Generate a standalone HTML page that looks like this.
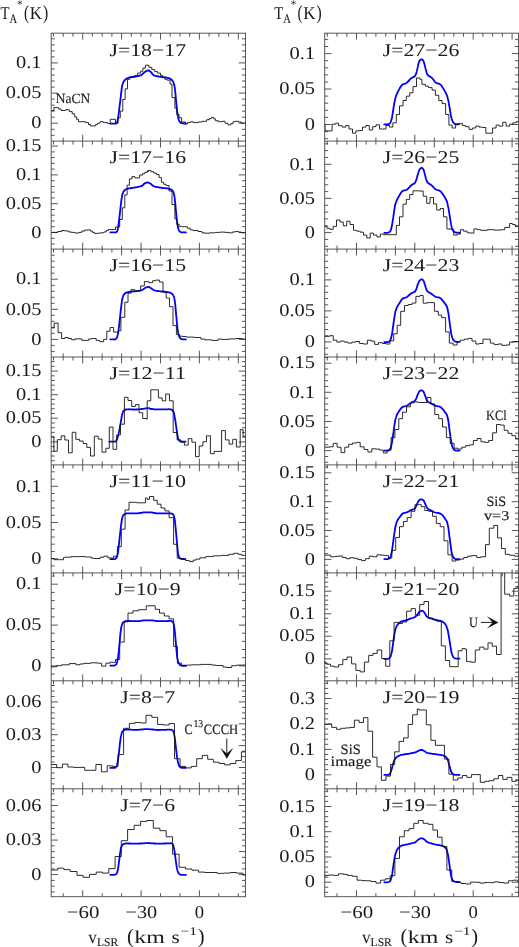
<!DOCTYPE html>
<html><head><meta charset="utf-8"><title>spectra</title>
<style>
html,body{margin:0;padding:0;background:#fff;}
svg{display:block;font-family:"Liberation Serif",serif;fill:#1a1a1a;will-change:transform;opacity:0.999;text-rendering:geometricPrecision;}
text{stroke:none;}
text.s{stroke:none;}
text.b{stroke:#1a1a1a;stroke-width:0.15px;}
</style></head><body>
<svg width="519" height="947" viewBox="0 0 519 947">
<rect width="519" height="947" fill="#fff"/>
<path d="M51.2,32.8V897.2M245.5,32.8V897.2M51.2,33.2H245.5M53.5,33.2V36.7M63.2,33.2V36.7M73.0,33.2V36.7M82.7,33.2V39.6M92.4,33.2V36.7M102.2,33.2V36.7M111.9,33.2V36.7M121.6,33.2V39.6M131.3,33.2V36.7M141.1,33.2V36.7M150.8,33.2V36.7M160.5,33.2V39.6M170.2,33.2V36.7M180.0,33.2V36.7M189.7,33.2V36.7M199.4,33.2V39.6M209.1,33.2V36.7M218.8,33.2V36.7M228.6,33.2V36.7M238.3,33.2V39.6M51.2,141.1H245.5M53.5,141.1V144.6M63.2,141.1V144.6M73.0,141.1V144.6M82.7,141.1V147.5M92.4,141.1V144.6M102.2,141.1V144.6M111.9,141.1V144.6M121.6,141.1V147.5M131.3,141.1V144.6M141.1,141.1V144.6M150.8,141.1V144.6M160.5,141.1V147.5M170.2,141.1V144.6M180.0,141.1V144.6M189.7,141.1V144.6M199.4,141.1V147.5M209.1,141.1V144.6M218.8,141.1V144.6M228.6,141.1V144.6M238.3,141.1V147.5M63.2,141.1V137.6M82.7,141.1V134.7M102.2,141.1V137.6M121.6,141.1V137.6M141.1,141.1V134.7M160.5,141.1V137.6M180.0,141.1V137.6M199.4,141.1V134.7M218.8,141.1V137.6M238.3,141.1V137.6M51.2,249.1H245.5M53.5,249.1V252.6M63.2,249.1V252.6M73.0,249.1V252.6M82.7,249.1V255.5M92.4,249.1V252.6M102.2,249.1V252.6M111.9,249.1V252.6M121.6,249.1V255.5M131.3,249.1V252.6M141.1,249.1V252.6M150.8,249.1V252.6M160.5,249.1V255.5M170.2,249.1V252.6M180.0,249.1V252.6M189.7,249.1V252.6M199.4,249.1V255.5M209.1,249.1V252.6M218.8,249.1V252.6M228.6,249.1V252.6M238.3,249.1V255.5M63.2,249.1V245.6M82.7,249.1V242.7M102.2,249.1V245.6M121.6,249.1V245.6M141.1,249.1V242.7M160.5,249.1V245.6M180.0,249.1V245.6M199.4,249.1V242.7M218.8,249.1V245.6M238.3,249.1V245.6M51.2,357.0H245.5M53.5,357.0V360.5M63.2,357.0V360.5M73.0,357.0V360.5M82.7,357.0V363.4M92.4,357.0V360.5M102.2,357.0V360.5M111.9,357.0V360.5M121.6,357.0V363.4M131.3,357.0V360.5M141.1,357.0V360.5M150.8,357.0V360.5M160.5,357.0V363.4M170.2,357.0V360.5M180.0,357.0V360.5M189.7,357.0V360.5M199.4,357.0V363.4M209.1,357.0V360.5M218.8,357.0V360.5M228.6,357.0V360.5M238.3,357.0V363.4M63.2,357.0V353.5M82.7,357.0V350.6M102.2,357.0V353.5M121.6,357.0V353.5M141.1,357.0V350.6M160.5,357.0V353.5M180.0,357.0V353.5M199.4,357.0V350.6M218.8,357.0V353.5M238.3,357.0V353.5M51.2,464.9H245.5M53.5,464.9V468.4M63.2,464.9V468.4M73.0,464.9V468.4M82.7,464.9V471.3M92.4,464.9V468.4M102.2,464.9V468.4M111.9,464.9V468.4M121.6,464.9V471.3M131.3,464.9V468.4M141.1,464.9V468.4M150.8,464.9V468.4M160.5,464.9V471.3M170.2,464.9V468.4M180.0,464.9V468.4M189.7,464.9V468.4M199.4,464.9V471.3M209.1,464.9V468.4M218.8,464.9V468.4M228.6,464.9V468.4M238.3,464.9V471.3M63.2,464.9V461.4M82.7,464.9V458.6M102.2,464.9V461.4M121.6,464.9V461.4M141.1,464.9V458.6M160.5,464.9V461.4M180.0,464.9V461.4M199.4,464.9V458.6M218.8,464.9V461.4M238.3,464.9V461.4M51.2,572.9H245.5M53.5,572.9V576.4M63.2,572.9V576.4M73.0,572.9V576.4M82.7,572.9V579.3M92.4,572.9V576.4M102.2,572.9V576.4M111.9,572.9V576.4M121.6,572.9V579.3M131.3,572.9V576.4M141.1,572.9V576.4M150.8,572.9V576.4M160.5,572.9V579.3M170.2,572.9V576.4M180.0,572.9V576.4M189.7,572.9V576.4M199.4,572.9V579.3M209.1,572.9V576.4M218.8,572.9V576.4M228.6,572.9V576.4M238.3,572.9V579.3M63.2,572.9V569.4M82.7,572.9V566.5M102.2,572.9V569.4M121.6,572.9V569.4M141.1,572.9V566.5M160.5,572.9V569.4M180.0,572.9V569.4M199.4,572.9V566.5M218.8,572.9V569.4M238.3,572.9V569.4M51.2,680.8H245.5M53.5,680.8V684.3M63.2,680.8V684.3M73.0,680.8V684.3M82.7,680.8V687.2M92.4,680.8V684.3M102.2,680.8V684.3M111.9,680.8V684.3M121.6,680.8V687.2M131.3,680.8V684.3M141.1,680.8V684.3M150.8,680.8V684.3M160.5,680.8V687.2M170.2,680.8V684.3M180.0,680.8V684.3M189.7,680.8V684.3M199.4,680.8V687.2M209.1,680.8V684.3M218.8,680.8V684.3M228.6,680.8V684.3M238.3,680.8V687.2M63.2,680.8V677.3M82.7,680.8V674.4M102.2,680.8V677.3M121.6,680.8V677.3M141.1,680.8V674.4M160.5,680.8V677.3M180.0,680.8V677.3M199.4,680.8V674.4M218.8,680.8V677.3M238.3,680.8V677.3M51.2,788.8H245.5M53.5,788.8V792.3M63.2,788.8V792.3M73.0,788.8V792.3M82.7,788.8V795.2M92.4,788.8V792.3M102.2,788.8V792.3M111.9,788.8V792.3M121.6,788.8V795.2M131.3,788.8V792.3M141.1,788.8V792.3M150.8,788.8V792.3M160.5,788.8V795.2M170.2,788.8V792.3M180.0,788.8V792.3M189.7,788.8V792.3M199.4,788.8V795.2M209.1,788.8V792.3M218.8,788.8V792.3M228.6,788.8V792.3M238.3,788.8V795.2M63.2,788.8V785.3M82.7,788.8V782.4M102.2,788.8V785.3M121.6,788.8V785.3M141.1,788.8V782.4M160.5,788.8V785.3M180.0,788.8V785.3M199.4,788.8V782.4M218.8,788.8V785.3M238.3,788.8V785.3M51.2,896.7H245.5M63.2,896.7V893.2M82.7,896.7V890.3M102.2,896.7V893.2M121.6,896.7V893.2M141.1,896.7V890.3M160.5,896.7V893.2M180.0,896.7V893.2M199.4,896.7V890.3M218.8,896.7V893.2M238.3,896.7V893.2M324.7,32.8V897.2M518.5,32.8V897.2M324.7,33.2H518.5M327.3,33.2V36.7M337.0,33.2V36.7M346.8,33.2V36.7M356.5,33.2V39.6M366.2,33.2V36.7M375.9,33.2V36.7M385.7,33.2V36.7M395.4,33.2V39.6M405.1,33.2V36.7M414.8,33.2V36.7M424.6,33.2V36.7M434.3,33.2V39.6M444.0,33.2V36.7M453.8,33.2V36.7M463.5,33.2V36.7M473.2,33.2V39.6M482.9,33.2V36.7M492.6,33.2V36.7M502.4,33.2V36.7M512.1,33.2V39.6M324.7,141.1H518.5M327.3,141.1V144.6M337.0,141.1V144.6M346.8,141.1V144.6M356.5,141.1V147.5M366.2,141.1V144.6M375.9,141.1V144.6M385.7,141.1V144.6M395.4,141.1V147.5M405.1,141.1V144.6M414.8,141.1V144.6M424.6,141.1V144.6M434.3,141.1V147.5M444.0,141.1V144.6M453.8,141.1V144.6M463.5,141.1V144.6M473.2,141.1V147.5M482.9,141.1V144.6M492.6,141.1V144.6M502.4,141.1V144.6M512.1,141.1V147.5M337.0,141.1V137.6M356.5,141.1V134.7M375.9,141.1V137.6M395.4,141.1V137.6M414.8,141.1V134.7M434.3,141.1V137.6M453.8,141.1V137.6M473.2,141.1V134.7M492.6,141.1V137.6M512.1,141.1V137.6M324.7,249.1H518.5M327.3,249.1V252.6M337.0,249.1V252.6M346.8,249.1V252.6M356.5,249.1V255.5M366.2,249.1V252.6M375.9,249.1V252.6M385.7,249.1V252.6M395.4,249.1V255.5M405.1,249.1V252.6M414.8,249.1V252.6M424.6,249.1V252.6M434.3,249.1V255.5M444.0,249.1V252.6M453.8,249.1V252.6M463.5,249.1V252.6M473.2,249.1V255.5M482.9,249.1V252.6M492.6,249.1V252.6M502.4,249.1V252.6M512.1,249.1V255.5M337.0,249.1V245.6M356.5,249.1V242.7M375.9,249.1V245.6M395.4,249.1V245.6M414.8,249.1V242.7M434.3,249.1V245.6M453.8,249.1V245.6M473.2,249.1V242.7M492.6,249.1V245.6M512.1,249.1V245.6M324.7,357.0H518.5M327.3,357.0V360.5M337.0,357.0V360.5M346.8,357.0V360.5M356.5,357.0V363.4M366.2,357.0V360.5M375.9,357.0V360.5M385.7,357.0V360.5M395.4,357.0V363.4M405.1,357.0V360.5M414.8,357.0V360.5M424.6,357.0V360.5M434.3,357.0V363.4M444.0,357.0V360.5M453.8,357.0V360.5M463.5,357.0V360.5M473.2,357.0V363.4M482.9,357.0V360.5M492.6,357.0V360.5M502.4,357.0V360.5M512.1,357.0V363.4M337.0,357.0V353.5M356.5,357.0V350.6M375.9,357.0V353.5M395.4,357.0V353.5M414.8,357.0V350.6M434.3,357.0V353.5M453.8,357.0V353.5M473.2,357.0V350.6M492.6,357.0V353.5M512.1,357.0V353.5M324.7,464.9H518.5M327.3,464.9V468.4M337.0,464.9V468.4M346.8,464.9V468.4M356.5,464.9V471.3M366.2,464.9V468.4M375.9,464.9V468.4M385.7,464.9V468.4M395.4,464.9V471.3M405.1,464.9V468.4M414.8,464.9V468.4M424.6,464.9V468.4M434.3,464.9V471.3M444.0,464.9V468.4M453.8,464.9V468.4M463.5,464.9V468.4M473.2,464.9V471.3M482.9,464.9V468.4M492.6,464.9V468.4M502.4,464.9V468.4M512.1,464.9V471.3M337.0,464.9V461.4M356.5,464.9V458.6M375.9,464.9V461.4M395.4,464.9V461.4M414.8,464.9V458.6M434.3,464.9V461.4M453.8,464.9V461.4M473.2,464.9V458.6M492.6,464.9V461.4M512.1,464.9V461.4M324.7,572.9H518.5M327.3,572.9V576.4M337.0,572.9V576.4M346.8,572.9V576.4M356.5,572.9V579.3M366.2,572.9V576.4M375.9,572.9V576.4M385.7,572.9V576.4M395.4,572.9V579.3M405.1,572.9V576.4M414.8,572.9V576.4M424.6,572.9V576.4M434.3,572.9V579.3M444.0,572.9V576.4M453.8,572.9V576.4M463.5,572.9V576.4M473.2,572.9V579.3M482.9,572.9V576.4M492.6,572.9V576.4M502.4,572.9V576.4M512.1,572.9V579.3M337.0,572.9V569.4M356.5,572.9V566.5M375.9,572.9V569.4M395.4,572.9V569.4M414.8,572.9V566.5M434.3,572.9V569.4M453.8,572.9V569.4M473.2,572.9V566.5M492.6,572.9V569.4M512.1,572.9V569.4M324.7,680.8H518.5M327.3,680.8V684.3M337.0,680.8V684.3M346.8,680.8V684.3M356.5,680.8V687.2M366.2,680.8V684.3M375.9,680.8V684.3M385.7,680.8V684.3M395.4,680.8V687.2M405.1,680.8V684.3M414.8,680.8V684.3M424.6,680.8V684.3M434.3,680.8V687.2M444.0,680.8V684.3M453.8,680.8V684.3M463.5,680.8V684.3M473.2,680.8V687.2M482.9,680.8V684.3M492.6,680.8V684.3M502.4,680.8V684.3M512.1,680.8V687.2M337.0,680.8V677.3M356.5,680.8V674.4M375.9,680.8V677.3M395.4,680.8V677.3M414.8,680.8V674.4M434.3,680.8V677.3M453.8,680.8V677.3M473.2,680.8V674.4M492.6,680.8V677.3M512.1,680.8V677.3M324.7,788.8H518.5M327.3,788.8V792.3M337.0,788.8V792.3M346.8,788.8V792.3M356.5,788.8V795.2M366.2,788.8V792.3M375.9,788.8V792.3M385.7,788.8V792.3M395.4,788.8V795.2M405.1,788.8V792.3M414.8,788.8V792.3M424.6,788.8V792.3M434.3,788.8V795.2M444.0,788.8V792.3M453.8,788.8V792.3M463.5,788.8V792.3M473.2,788.8V795.2M482.9,788.8V792.3M492.6,788.8V792.3M502.4,788.8V792.3M512.1,788.8V795.2M337.0,788.8V785.3M356.5,788.8V782.4M375.9,788.8V785.3M395.4,788.8V785.3M414.8,788.8V782.4M434.3,788.8V785.3M453.8,788.8V785.3M473.2,788.8V782.4M492.6,788.8V785.3M512.1,788.8V785.3M324.7,896.7H518.5M337.0,896.7V893.2M356.5,896.7V890.3M375.9,896.7V893.2M395.4,896.7V893.2M414.8,896.7V890.3M434.3,896.7V893.2M453.8,896.7V893.2M473.2,896.7V890.3M492.6,896.7V893.2M512.1,896.7V893.2M51.2,135.3H54.7M245.5,135.3H242.0M51.2,129.3H54.7M245.5,129.3H242.0M51.2,123.2H57.9M245.5,123.2H238.8M51.2,117.2H54.7M245.5,117.2H242.0M51.2,111.2H54.7M245.5,111.2H242.0M51.2,105.2H54.7M245.5,105.2H242.0M51.2,99.1H54.7M245.5,99.1H242.0M51.2,93.1H57.9M245.5,93.1H238.8M51.2,87.1H54.7M245.5,87.1H242.0M51.2,81.0H54.7M245.5,81.0H242.0M51.2,75.0H54.7M245.5,75.0H242.0M51.2,69.0H54.7M245.5,69.0H242.0M51.2,62.9H57.9M245.5,62.9H238.8M51.2,56.9H54.7M245.5,56.9H242.0M51.2,50.9H54.7M245.5,50.9H242.0M51.2,44.9H54.7M245.5,44.9H242.0M51.2,38.8H54.7M245.5,38.8H242.0M51.2,244.0H54.7M245.5,244.0H242.0M51.2,238.3H54.7M245.5,238.3H242.0M51.2,232.5H57.9M245.5,232.5H238.8M51.2,226.7H54.7M245.5,226.7H242.0M51.2,221.0H54.7M245.5,221.0H242.0M51.2,215.2H54.7M245.5,215.2H242.0M51.2,209.5H54.7M245.5,209.5H242.0M51.2,203.7H57.9M245.5,203.7H238.8M51.2,197.9H54.7M245.5,197.9H242.0M51.2,192.2H54.7M245.5,192.2H242.0M51.2,186.4H54.7M245.5,186.4H242.0M51.2,180.7H54.7M245.5,180.7H242.0M51.2,174.9H57.9M245.5,174.9H238.8M51.2,169.1H54.7M245.5,169.1H242.0M51.2,163.4H54.7M245.5,163.4H242.0M51.2,157.6H54.7M245.5,157.6H242.0M51.2,151.9H54.7M245.5,151.9H242.0M51.2,146.1H57.9M245.5,146.1H238.8M51.2,351.4H54.7M245.5,351.4H242.0M51.2,345.4H54.7M245.5,345.4H242.0M51.2,339.4H57.9M245.5,339.4H238.8M51.2,333.3H54.7M245.5,333.3H242.0M51.2,327.3H54.7M245.5,327.3H242.0M51.2,321.3H54.7M245.5,321.3H242.0M51.2,315.3H54.7M245.5,315.3H242.0M51.2,309.3H57.9M245.5,309.3H238.8M51.2,303.3H54.7M245.5,303.3H242.0M51.2,297.3H54.7M245.5,297.3H242.0M51.2,291.3H54.7M245.5,291.3H242.0M51.2,285.3H54.7M245.5,285.3H242.0M51.2,279.2H57.9M245.5,279.2H238.8M51.2,273.2H54.7M245.5,273.2H242.0M51.2,267.2H54.7M245.5,267.2H242.0M51.2,261.2H54.7M245.5,261.2H242.0M51.2,255.2H54.7M245.5,255.2H242.0M51.2,460.7H54.7M245.5,460.7H242.0M51.2,456.0H54.7M245.5,456.0H242.0M51.2,451.3H54.7M245.5,451.3H242.0M51.2,446.6H54.7M245.5,446.6H242.0M51.2,441.9H57.9M245.5,441.9H238.8M51.2,437.1H54.7M245.5,437.1H242.0M51.2,432.4H54.7M245.5,432.4H242.0M51.2,427.7H54.7M245.5,427.7H242.0M51.2,423.0H54.7M245.5,423.0H242.0M51.2,418.2H57.9M245.5,418.2H238.8M51.2,413.5H54.7M245.5,413.5H242.0M51.2,408.8H54.7M245.5,408.8H242.0M51.2,404.1H54.7M245.5,404.1H242.0M51.2,399.4H54.7M245.5,399.4H242.0M51.2,394.7H57.9M245.5,394.7H238.8M51.2,389.9H54.7M245.5,389.9H242.0M51.2,385.2H54.7M245.5,385.2H242.0M51.2,380.5H54.7M245.5,380.5H242.0M51.2,375.8H54.7M245.5,375.8H242.0M51.2,371.1H57.9M245.5,371.1H238.8M51.2,366.3H54.7M245.5,366.3H242.0M51.2,361.6H54.7M245.5,361.6H242.0M51.2,565.9H54.7M245.5,565.9H242.0M51.2,558.7H57.9M245.5,558.7H238.8M51.2,551.5H54.7M245.5,551.5H242.0M51.2,544.2H54.7M245.5,544.2H242.0M51.2,537.0H54.7M245.5,537.0H242.0M51.2,529.7H54.7M245.5,529.7H242.0M51.2,522.5H57.9M245.5,522.5H238.8M51.2,515.3H54.7M245.5,515.3H242.0M51.2,508.0H54.7M245.5,508.0H242.0M51.2,500.8H54.7M245.5,500.8H242.0M51.2,493.5H54.7M245.5,493.5H242.0M51.2,486.3H57.9M245.5,486.3H238.8M51.2,479.1H54.7M245.5,479.1H242.0M51.2,471.8H54.7M245.5,471.8H242.0M51.2,674.0H54.7M245.5,674.0H242.0M51.2,665.9H57.9M245.5,665.9H238.8M51.2,657.7H54.7M245.5,657.7H242.0M51.2,649.5H54.7M245.5,649.5H242.0M51.2,641.4H54.7M245.5,641.4H242.0M51.2,633.2H54.7M245.5,633.2H242.0M51.2,625.1H57.9M245.5,625.1H238.8M51.2,616.9H54.7M245.5,616.9H242.0M51.2,608.7H54.7M245.5,608.7H242.0M51.2,600.6H54.7M245.5,600.6H242.0M51.2,592.4H54.7M245.5,592.4H242.0M51.2,584.2H57.9M245.5,584.2H238.8M51.2,576.1H54.7M245.5,576.1H242.0M51.2,783.9H54.7M245.5,783.9H242.0M51.2,778.4H54.7M245.5,778.4H242.0M51.2,773.0H54.7M245.5,773.0H242.0M51.2,767.5H57.9M245.5,767.5H238.8M51.2,762.0H54.7M245.5,762.0H242.0M51.2,756.6H54.7M245.5,756.6H242.0M51.2,751.1H54.7M245.5,751.1H242.0M51.2,745.6H54.7M245.5,745.6H238.8M51.2,740.2H54.7M245.5,740.2H242.0M51.2,734.7H57.9M245.5,734.7H242.0M51.2,729.2H54.7M245.5,729.2H242.0M51.2,723.8H54.7M245.5,723.8H238.8M51.2,718.3H54.7M245.5,718.3H242.0M51.2,712.9H54.7M245.5,712.9H242.0M51.2,707.4H54.7M245.5,707.4H242.0M51.2,701.9H57.9M245.5,701.9H238.8M51.2,696.5H54.7M245.5,696.5H242.0M51.2,691.0H54.7M245.5,691.0H242.0M51.2,685.5H54.7M245.5,685.5H242.0M51.2,891.9H54.7M245.5,891.9H242.0M51.2,886.2H54.7M245.5,886.2H242.0M51.2,880.4H54.7M245.5,880.4H242.0M51.2,874.6H57.9M245.5,874.6H238.8M51.2,868.9H54.7M245.5,868.9H242.0M51.2,863.1H54.7M245.5,863.1H242.0M51.2,857.4H54.7M245.5,857.4H242.0M51.2,851.6H54.7M245.5,851.6H238.8M51.2,845.8H54.7M245.5,845.8H242.0M51.2,840.1H57.9M245.5,840.1H242.0M51.2,834.3H54.7M245.5,834.3H242.0M51.2,828.5H54.7M245.5,828.5H238.8M51.2,822.8H54.7M245.5,822.8H242.0M51.2,817.0H54.7M245.5,817.0H242.0M51.2,811.2H54.7M245.5,811.2H242.0M51.2,805.5H57.9M245.5,805.5H238.8M51.2,799.7H54.7M245.5,799.7H242.0M51.2,793.9H54.7M245.5,793.9H242.0M324.7,138.7H328.2M518.5,138.7H515.0M324.7,131.6H328.2M518.5,131.6H515.0M324.7,124.5H331.4M518.5,124.5H511.8M324.7,117.4H328.2M518.5,117.4H515.0M324.7,110.3H328.2M518.5,110.3H515.0M324.7,103.2H328.2M518.5,103.2H515.0M324.7,96.1H328.2M518.5,96.1H515.0M324.7,89.0H331.4M518.5,89.0H511.8M324.7,82.0H328.2M518.5,82.0H515.0M324.7,74.9H328.2M518.5,74.9H515.0M324.7,67.8H328.2M518.5,67.8H515.0M324.7,60.7H328.2M518.5,60.7H515.0M324.7,53.6H331.4M518.5,53.6H511.8M324.7,46.5H328.2M518.5,46.5H515.0M324.7,39.4H328.2M518.5,39.4H515.0M324.7,246.3H328.2M518.5,246.3H515.0M324.7,239.4H328.2M518.5,239.4H515.0M324.7,232.6H331.4M518.5,232.6H511.8M324.7,225.8H328.2M518.5,225.8H515.0M324.7,218.9H328.2M518.5,218.9H515.0M324.7,212.1H328.2M518.5,212.1H515.0M324.7,205.3H328.2M518.5,205.3H515.0M324.7,198.4H331.4M518.5,198.4H511.8M324.7,191.6H328.2M518.5,191.6H515.0M324.7,184.8H328.2M518.5,184.8H515.0M324.7,178.0H328.2M518.5,178.0H515.0M324.7,171.1H328.2M518.5,171.1H515.0M324.7,164.3H331.4M518.5,164.3H511.8M324.7,157.5H328.2M518.5,157.5H515.0M324.7,150.6H328.2M518.5,150.6H515.0M324.7,143.8H328.2M518.5,143.8H515.0M324.7,354.3H328.2M518.5,354.3H515.0M324.7,348.1H328.2M518.5,348.1H515.0M324.7,341.9H331.4M518.5,341.9H511.8M324.7,335.8H328.2M518.5,335.8H515.0M324.7,329.6H328.2M518.5,329.6H515.0M324.7,323.3H328.2M518.5,323.3H515.0M324.7,317.1H328.2M518.5,317.1H515.0M324.7,310.9H331.4M518.5,310.9H511.8M324.7,304.8H328.2M518.5,304.8H515.0M324.7,298.5H328.2M518.5,298.5H515.0M324.7,292.3H328.2M518.5,292.3H515.0M324.7,286.1H328.2M518.5,286.1H515.0M324.7,279.9H331.4M518.5,279.9H511.8M324.7,273.8H328.2M518.5,273.8H515.0M324.7,267.6H328.2M518.5,267.6H515.0M324.7,261.3H328.2M518.5,261.3H515.0M324.7,255.1H328.2M518.5,255.1H515.0M324.7,462.3H328.2M518.5,462.3H515.0M324.7,456.5H328.2M518.5,456.5H515.0M324.7,450.6H331.4M518.5,450.6H511.8M324.7,444.8H328.2M518.5,444.8H515.0M324.7,439.0H328.2M518.5,439.0H515.0M324.7,433.2H328.2M518.5,433.2H515.0M324.7,427.3H328.2M518.5,427.3H515.0M324.7,421.5H331.4M518.5,421.5H511.8M324.7,415.7H328.2M518.5,415.7H515.0M324.7,409.8H328.2M518.5,409.8H515.0M324.7,404.0H328.2M518.5,404.0H515.0M324.7,398.2H328.2M518.5,398.2H515.0M324.7,392.3H331.4M518.5,392.3H511.8M324.7,386.5H328.2M518.5,386.5H515.0M324.7,380.7H328.2M518.5,380.7H515.0M324.7,374.9H328.2M518.5,374.9H515.0M324.7,369.0H328.2M518.5,369.0H515.0M324.7,363.2H331.4M518.5,363.2H511.8M324.7,357.4H328.2M518.5,357.4H515.0M324.7,570.9H328.2M518.5,570.9H515.0M324.7,565.2H328.2M518.5,565.2H515.0M324.7,559.4H331.4M518.5,559.4H511.8M324.7,553.6H328.2M518.5,553.6H515.0M324.7,547.9H328.2M518.5,547.9H515.0M324.7,542.1H328.2M518.5,542.1H515.0M324.7,536.3H328.2M518.5,536.3H515.0M324.7,530.5H331.4M518.5,530.5H511.8M324.7,524.8H328.2M518.5,524.8H515.0M324.7,519.0H328.2M518.5,519.0H515.0M324.7,513.2H328.2M518.5,513.2H515.0M324.7,507.5H328.2M518.5,507.5H515.0M324.7,501.7H331.4M518.5,501.7H511.8M324.7,495.9H328.2M518.5,495.9H515.0M324.7,490.2H328.2M518.5,490.2H515.0M324.7,484.4H328.2M518.5,484.4H515.0M324.7,478.6H328.2M518.5,478.6H515.0M324.7,472.8H331.4M518.5,472.8H511.8M324.7,467.1H328.2M518.5,467.1H515.0M324.7,676.8H328.2M518.5,676.8H515.0M324.7,672.2H328.2M518.5,672.2H515.0M324.7,667.8H328.2M518.5,667.8H515.0M324.7,663.2H328.2M518.5,663.2H515.0M324.7,658.8H331.4M518.5,658.8H511.8M324.7,654.2H328.2M518.5,654.2H515.0M324.7,649.8H328.2M518.5,649.8H515.0M324.7,645.2H328.2M518.5,645.2H515.0M324.7,640.8H328.2M518.5,640.8H515.0M324.7,636.2H331.4M518.5,636.2H511.8M324.7,631.8H328.2M518.5,631.8H515.0M324.7,627.2H328.2M518.5,627.2H515.0M324.7,622.8H328.2M518.5,622.8H515.0M324.7,618.2H328.2M518.5,618.2H515.0M324.7,613.8H331.4M518.5,613.8H511.8M324.7,609.2H328.2M518.5,609.2H515.0M324.7,604.8H328.2M518.5,604.8H515.0M324.7,600.2H328.2M518.5,600.2H515.0M324.7,595.8H328.2M518.5,595.8H515.0M324.7,591.2H331.4M518.5,591.2H511.8M324.7,586.8H328.2M518.5,586.8H515.0M324.7,582.2H328.2M518.5,582.2H515.0M324.7,577.8H328.2M518.5,577.8H515.0M324.7,573.2H328.2M518.5,573.2H515.0M324.7,784.9H328.2M518.5,784.9H515.0M324.7,779.8H328.2M518.5,779.8H515.0M324.7,774.8H331.4M518.5,774.8H511.8M324.7,769.7H328.2M518.5,769.7H515.0M324.7,764.6H328.2M518.5,764.6H515.0M324.7,759.5H328.2M518.5,759.5H515.0M324.7,754.4H328.2M518.5,754.4H515.0M324.7,749.4H331.4M518.5,749.4H511.8M324.7,744.3H328.2M518.5,744.3H515.0M324.7,739.2H328.2M518.5,739.2H515.0M324.7,734.1H328.2M518.5,734.1H515.0M324.7,729.0H328.2M518.5,729.0H515.0M324.7,724.0H331.4M518.5,724.0H511.8M324.7,718.9H328.2M518.5,718.9H515.0M324.7,713.8H328.2M518.5,713.8H515.0M324.7,708.7H328.2M518.5,708.7H515.0M324.7,703.6H328.2M518.5,703.6H515.0M324.7,698.5H331.4M518.5,698.5H511.8M324.7,693.5H328.2M518.5,693.5H515.0M324.7,688.4H328.2M518.5,688.4H515.0M324.7,683.3H328.2M518.5,683.3H515.0M324.7,892.3H328.2M518.5,892.3H515.0M324.7,887.2H328.2M518.5,887.2H515.0M324.7,882.2H331.4M518.5,882.2H511.8M324.7,877.2H328.2M518.5,877.2H515.0M324.7,872.1H328.2M518.5,872.1H515.0M324.7,867.1H328.2M518.5,867.1H515.0M324.7,862.0H328.2M518.5,862.0H515.0M324.7,857.0H331.4M518.5,857.0H511.8M324.7,851.9H328.2M518.5,851.9H515.0M324.7,846.9H328.2M518.5,846.9H515.0M324.7,841.8H328.2M518.5,841.8H515.0M324.7,836.8H328.2M518.5,836.8H515.0M324.7,831.7H331.4M518.5,831.7H511.8M324.7,826.7H328.2M518.5,826.7H515.0M324.7,821.6H328.2M518.5,821.6H515.0M324.7,816.6H328.2M518.5,816.6H515.0M324.7,811.5H328.2M518.5,811.5H515.0M324.7,806.5H331.4M518.5,806.5H511.8M324.7,801.4H328.2M518.5,801.4H515.0M324.7,796.4H328.2M518.5,796.4H515.0M324.7,791.3H328.2M518.5,791.3H515.0" fill="none" stroke="#444444" stroke-width="0.9"/>
<text x="66.65" y="917.50" font-size="18.0" text-anchor="start" textLength="32.7" lengthAdjust="spacingAndGlyphs">−60</text>
<text x="125.50" y="917.50" font-size="18.0" text-anchor="start" textLength="31.7" lengthAdjust="spacingAndGlyphs">−30</text>
<text x="194.75" y="917.50" font-size="18.0" text-anchor="start" textLength="9.3" lengthAdjust="spacingAndGlyphs">0</text>
<text x="340.45" y="917.50" font-size="18.0" text-anchor="start" textLength="32.7" lengthAdjust="spacingAndGlyphs">−60</text>
<text x="399.30" y="917.50" font-size="18.0" text-anchor="start" textLength="31.7" lengthAdjust="spacingAndGlyphs">−30</text>
<text x="468.55" y="917.50" font-size="18.0" text-anchor="start" textLength="9.3" lengthAdjust="spacingAndGlyphs">0</text>
<text x="31.26" y="128.45" font-size="18.0" text-anchor="start" textLength="10.2" lengthAdjust="spacingAndGlyphs">0</text>
<text x="5.67" y="98.30" font-size="18.0" text-anchor="start" textLength="35.8" lengthAdjust="spacingAndGlyphs">0.05</text>
<text x="15.91" y="68.15" font-size="18.0" text-anchor="start" textLength="25.6" lengthAdjust="spacingAndGlyphs">0.1</text>
<text x="109.44" y="55.50" font-size="18.0" text-anchor="start" textLength="76.6" lengthAdjust="spacingAndGlyphs">J=18−17</text>
<clipPath id="cL1"><rect x="51.2" y="33.2" width="194.3" height="107.93749999999999"/></clipPath>
<path d="M110.3,123.6L111.1,123.6L111.8,123.6L112.6,123.6L113.3,123.6L114.1,123.6L114.8,123.6L115.6,123.6L116.2,123.5L116.7,123.0L117.0,122.4L117.3,121.7L117.5,120.9L117.6,120.2L117.8,119.5L117.9,118.7L118.0,118.0L118.2,117.3L118.3,116.5L118.4,115.8L118.5,115.0L118.6,114.3L118.7,113.5L118.8,112.8L118.9,112.1L119.0,111.3L119.1,110.6L119.2,109.8L119.3,109.1L119.3,108.3L119.4,107.6L119.5,106.8L119.6,106.1L119.7,105.4L119.8,104.6L119.9,103.9L120.0,103.1L120.1,102.4L120.2,101.6L120.3,100.9L120.4,100.1L120.4,99.4L120.5,98.7L120.6,97.9L120.7,97.2L120.8,96.4L120.9,95.7L120.9,94.9L121.0,94.2L121.1,93.4L121.2,92.7L121.3,92.0L121.4,91.2L121.5,90.5L121.6,89.7L121.7,89.0L121.8,88.2L121.9,87.5L122.0,86.8L122.1,86.0L122.2,85.3L122.5,84.6L122.7,83.9L123.0,83.2L123.3,82.5L123.6,81.8L124.0,81.2L124.4,80.6L124.9,80.0L125.4,79.5L126.0,79.0L126.7,78.7L127.3,78.3L128.0,78.0L128.7,77.7L129.4,77.5L130.2,77.4L130.9,77.2L131.6,77.0L132.4,76.9L133.1,76.8L133.9,76.7L134.6,76.6L135.3,76.5L136.1,76.4L136.8,76.3L137.6,76.2L138.3,76.0L139.0,75.9L139.7,75.6L140.5,75.4L141.1,75.1L141.8,74.7L142.3,74.2L142.8,73.7L143.4,73.2L144.0,72.7L144.5,72.2L145.1,71.8L145.8,71.4L146.4,71.0L147.1,70.7L147.8,70.5L148.5,70.4L149.0,70.4L149.2,70.8L149.8,71.2L150.4,71.6L150.9,72.1L151.4,72.7L151.9,73.3L152.3,73.9L152.8,74.4L153.4,74.9L154.0,75.3L154.6,75.7L155.3,75.9L156.1,76.1L156.8,76.2L157.5,76.4L158.3,76.5L159.0,76.6L159.8,76.7L160.5,76.8L161.3,76.9L162.0,77.0L162.7,77.1L163.5,77.2L164.2,77.2L165.0,77.3L165.7,77.4L166.5,77.6L167.2,77.8L167.9,77.9L168.6,78.1L169.3,78.4L170.0,78.7L170.7,79.1L171.3,79.5L171.8,80.0L172.3,80.6L172.8,81.1L173.2,81.8L173.4,82.5L173.7,83.2L173.9,83.9L174.2,84.6L174.3,85.3L174.5,86.1L174.6,86.8L174.7,87.5L174.8,88.3L174.9,89.0L175.0,89.8L175.1,90.5L175.2,91.3L175.3,92.0L175.4,92.7L175.4,93.5L175.5,94.2L175.6,95.0L175.6,95.7L175.7,96.5L175.8,97.2L175.8,98.0L175.9,98.7L176.0,99.5L176.0,100.2L176.1,101.0L176.2,101.7L176.3,102.5L176.3,103.2L176.4,103.9L176.5,104.7L176.6,105.4L176.6,106.2L176.7,106.9L176.8,107.7L176.9,108.4L177.0,109.2L177.0,109.9L177.1,110.7L177.2,111.4L177.3,112.1L177.4,112.9L177.5,113.6L177.6,114.4L177.7,115.1L177.8,115.9L178.0,116.6L178.1,117.3L178.3,118.1L178.5,118.8L178.6,119.5L178.9,120.2L179.2,120.9L179.6,121.5L180.0,122.1L180.5,122.6L181.2,122.9L181.9,123.2L182.6,123.3L183.4,123.4L184.1,123.5L184.9,123.5L185.5,123.6L185.9,123.6" fill="none" stroke="#0000fa" stroke-width="1.8" stroke-linejoin="round" stroke-linecap="round"/>
<path d="M51.5,110.5V110.5H53.9V107.6H58.7V109.1H61.2V110.5H65.8V109.7H69.3V111.6H72.2V113.9H74.7V116.8H76.6V119.3H78.5V121.7H85.6V122.6H88.5V124.5H90.5V125.9H95.7V124.5H97.6V123.2H100.1V121.7H103.4V122.6H107.8V123.6H110.3V119.3H115.5V123.2H118.0V117.8H120.3V111.1H122.8V99.5H125.1V88.9H127.5V79.3H129.8V77.3H134.8V75.4H137.7V73.1H140.6V71.2H142.9V68.1H145.4V65.2H146.0V65.2H148.9V67.3H151.8V69.6H154.7V71.6H157.6V73.1H160.5V75.4H162.4V77.7H164.9V79.3H167.2V80.2H170.1V84.1H172.0V97.6H174.9V108.2H176.8V114.5H179.1V117.8H181.6V122.0H185.5V124.0H187.4V122.6H190.7V121.7H193.2V122.6H198.0V122.0H201.9V121.3H206.7V119.7H209.6V118.4H211.5V117.4H213.8V118.8H215.4V120.7H218.3V121.7H222.1V121.3H225.0V123.2H227.9V124.9H230.8V123.6H233.1V121.7H235.6V121.3H238.5V122.0H241.4V123.2H245.6" fill="none" stroke="#151515" stroke-width="0.9" clip-path="url(#cL1)"/>
<text class="b" x="55.8" y="103.2" font-size="14.0" textLength="34.4" lengthAdjust="spacingAndGlyphs">NaCN</text>
<text x="31.26" y="237.70" font-size="18.0" text-anchor="start" textLength="10.2" lengthAdjust="spacingAndGlyphs">0</text>
<text x="5.67" y="208.90" font-size="18.0" text-anchor="start" textLength="35.8" lengthAdjust="spacingAndGlyphs">0.05</text>
<text x="15.91" y="180.10" font-size="18.0" text-anchor="start" textLength="25.6" lengthAdjust="spacingAndGlyphs">0.1</text>
<text x="5.67" y="151.30" font-size="18.0" text-anchor="start" textLength="35.8" lengthAdjust="spacingAndGlyphs">0.15</text>
<text x="109.44" y="163.44" font-size="18.0" text-anchor="start" textLength="76.6" lengthAdjust="spacingAndGlyphs">J=17−16</text>
<clipPath id="cL2"><rect x="51.2" y="141.1375" width="194.3" height="107.9375"/></clipPath>
<path d="M110.3,232.4L111.1,232.4L111.8,232.4L112.6,232.4L113.3,232.4L114.1,232.4L114.8,232.4L115.6,232.4L116.2,232.3L116.7,231.9L117.1,231.2L117.4,230.6L117.6,229.8L117.7,229.1L117.9,228.4L118.0,227.6L118.2,226.9L118.3,226.2L118.4,225.4L118.5,224.7L118.6,223.9L118.7,223.2L118.8,222.5L118.9,221.7L119.0,221.0L119.1,220.2L119.2,219.5L119.3,218.7L119.4,218.0L119.4,217.2L119.5,216.5L119.6,215.7L119.7,215.0L119.8,214.3L119.9,213.5L119.9,212.8L120.0,212.0L120.1,211.3L120.2,210.5L120.3,209.8L120.4,209.0L120.4,208.3L120.5,207.6L120.6,206.8L120.7,206.1L120.8,205.3L120.9,204.6L120.9,203.8L121.0,203.1L121.1,202.3L121.2,201.6L121.3,200.8L121.4,200.1L121.5,199.4L121.6,198.6L121.8,197.9L121.9,197.1L122.0,196.4L122.1,195.7L122.3,194.9L122.5,194.2L122.7,193.5L123.0,192.8L123.2,192.1L123.6,191.5L124.1,190.9L124.6,190.3L125.1,189.8L125.8,189.5L126.4,189.1L127.1,188.8L127.8,188.6L128.6,188.5L129.3,188.4L130.0,188.3L130.8,188.1L131.5,188.0L132.3,187.9L133.0,187.8L133.7,187.7L134.5,187.6L135.2,187.4L136.0,187.3L136.7,187.2L137.4,187.0L138.2,186.9L138.9,186.7L139.6,186.5L140.4,186.3L141.1,186.1L141.8,185.9L142.4,185.5L142.9,185.0L143.5,184.4L144.0,183.9L144.6,183.5L145.2,183.1L145.9,182.8L146.6,182.6L147.4,182.5L148.1,182.5L148.8,182.7L149.4,183.1L150.1,183.4L150.7,183.8L151.3,184.3L151.8,184.8L152.4,185.3L153.0,185.7L153.7,186.1L154.4,186.4L155.1,186.6L155.8,186.8L156.5,187.0L157.3,187.1L158.0,187.2L158.7,187.4L159.5,187.5L160.2,187.6L161.0,187.7L161.7,187.9L162.4,188.0L163.2,188.1L163.9,188.1L164.7,188.2L165.4,188.2L166.2,188.3L166.9,188.3L167.6,188.4L168.4,188.6L169.1,188.8L169.8,189.0L170.5,189.3L171.2,189.6L171.8,190.0L172.3,190.5L172.7,191.2L173.2,191.8L173.5,192.4L173.7,193.1L173.9,193.9L174.0,194.6L174.2,195.3L174.4,196.1L174.5,196.8L174.6,197.6L174.7,198.3L174.8,199.0L174.9,199.8L174.9,200.5L175.0,201.3L175.1,202.0L175.2,202.8L175.3,203.5L175.4,204.3L175.4,205.0L175.5,205.8L175.6,206.5L175.6,207.2L175.7,208.0L175.7,208.7L175.8,209.5L175.9,210.2L175.9,211.0L176.0,211.7L176.1,212.5L176.2,213.2L176.2,214.0L176.3,214.7L176.4,215.5L176.5,216.2L176.5,217.0L176.6,217.7L176.7,218.4L176.8,219.2L176.8,219.9L176.9,220.7L177.0,221.4L177.2,222.2L177.3,222.9L177.4,223.7L177.5,224.4L177.6,225.1L177.7,225.9L177.8,226.6L178.0,227.3L178.2,228.1L178.4,228.8L178.6,229.5L178.9,230.2L179.3,230.8L179.8,231.4L180.3,231.9L180.9,232.1L181.7,232.3L182.4,232.4L183.2,232.4L183.9,232.4L184.7,232.4L185.4,232.4L185.9,232.4" fill="none" stroke="#0000fa" stroke-width="1.8" stroke-linejoin="round" stroke-linecap="round"/>
<path d="M51.5,232.4V232.4H57.7V231.5H61.6V230.5H64.5V230.9H68.3V231.9H71.2V232.4H75.0V233.0H78.9V232.4H81.8V231.1H84.7V230.1H87.6V229.9H90.5V231.1H92.4V232.4H94.7V233.6H97.2V233.2H100.5V232.8H103.9V231.9H106.3V230.5H108.4V229.5H110.7V229.5H115.5V227.0H117.4V227.0H119.7V219.5H122.3V207.8H124.8V194.9H127.1V185.2H129.4V178.9H131.9V176.6H134.8V177.9H139.6V175.0H142.5V173.7H144.8V172.3H147.3V170.8H148.3V171.7H148.3V170.4H150.8V171.7H153.7V173.1H156.6V174.6H159.1V177.5H161.4V182.3H163.7V184.3H166.2V185.6H169.1V191.0H172.0V204.5H174.9V218.9H176.8V224.3H179.1V226.3H181.6V226.7H187.4V228.2H190.3V229.9H193.2V230.5H198.0V231.5H201.9V232.8H204.8V233.2H209.6V232.8H215.4V232.4H220.2V232.1H225.0V232.4H228.9V232.8H232.7V231.9H235.6V231.5H238.5V232.1H241.4V232.8H245.6" fill="none" stroke="#151515" stroke-width="0.9" clip-path="url(#cL2)"/>
<text x="31.26" y="344.55" font-size="18.0" text-anchor="start" textLength="10.2" lengthAdjust="spacingAndGlyphs">0</text>
<text x="5.67" y="314.50" font-size="18.0" text-anchor="start" textLength="35.8" lengthAdjust="spacingAndGlyphs">0.05</text>
<text x="15.91" y="284.45" font-size="18.0" text-anchor="start" textLength="25.6" lengthAdjust="spacingAndGlyphs">0.1</text>
<text x="109.44" y="271.38" font-size="18.0" text-anchor="start" textLength="76.6" lengthAdjust="spacingAndGlyphs">J=16−15</text>
<clipPath id="cL3"><rect x="51.2" y="249.075" width="194.3" height="107.9375"/></clipPath>
<path d="M110.3,339.4L111.1,339.4L111.8,339.4L112.6,339.4L113.3,339.4L114.1,339.4L114.8,339.4L115.5,339.3L116.0,338.8L116.5,338.2L116.9,337.6L117.2,336.9L117.4,336.2L117.5,335.5L117.7,334.8L117.9,334.0L118.1,333.3L118.2,332.6L118.3,331.8L118.4,331.1L118.5,330.3L118.6,329.6L118.7,328.8L118.8,328.1L118.9,327.4L119.0,326.6L119.1,325.9L119.2,325.1L119.2,324.4L119.3,323.6L119.4,322.9L119.5,322.1L119.6,321.4L119.7,320.7L119.7,319.9L119.8,319.2L119.9,318.4L120.0,317.7L120.1,316.9L120.1,316.2L120.2,315.4L120.3,314.7L120.4,313.9L120.5,313.2L120.6,312.5L120.6,311.7L120.7,311.0L120.8,310.2L120.9,309.5L121.0,308.7L121.1,308.0L121.2,307.2L121.2,306.5L121.3,305.7L121.4,305.0L121.5,304.3L121.6,303.5L121.7,302.8L121.8,302.0L121.9,301.3L122.0,300.5L122.1,299.8L122.3,299.1L122.5,298.3L122.7,297.6L122.9,296.9L123.1,296.2L123.3,295.5L123.7,294.9L124.2,294.3L124.7,293.7L125.2,293.2L125.9,292.9L126.6,292.6L127.3,292.3L128.0,292.1L128.7,292.0L129.5,291.9L130.2,291.8L131.0,291.7L131.7,291.6L132.4,291.5L133.2,291.4L133.9,291.4L134.7,291.3L135.4,291.3L136.2,291.2L136.9,291.1L137.7,291.1L138.4,290.9L139.1,290.8L139.9,290.6L140.6,290.5L141.3,290.3L142.0,290.0L142.7,289.6L143.3,289.3L143.9,288.8L144.5,288.4L145.1,287.9L145.7,287.5L146.4,287.3L147.2,287.1L147.9,286.9L148.6,286.9L149.3,287.1L149.9,287.5L150.6,287.9L151.2,288.3L151.8,288.7L152.4,289.2L153.0,289.6L153.7,290.0L154.3,290.3L155.1,290.5L155.8,290.7L156.5,290.8L157.3,291.0L158.0,291.1L158.7,291.1L159.5,291.2L160.2,291.3L161.0,291.4L161.7,291.5L162.5,291.5L163.2,291.6L164.0,291.7L164.7,291.7L165.5,291.8L166.2,291.9L166.9,292.0L167.7,292.1L168.4,292.3L169.2,292.4L169.9,292.6L170.6,292.9L171.2,293.3L171.8,293.7L172.4,294.1L172.9,294.7L173.2,295.4L173.6,296.0L173.9,296.7L174.2,297.4L174.3,298.1L174.4,298.9L174.6,299.6L174.7,300.3L174.8,301.1L174.9,301.8L175.0,302.6L175.1,303.3L175.2,304.0L175.3,304.8L175.3,305.5L175.4,306.3L175.5,307.0L175.5,307.8L175.6,308.5L175.7,309.3L175.7,310.0L175.8,310.8L175.9,311.5L175.9,312.3L176.0,313.0L176.1,313.8L176.1,314.5L176.2,315.3L176.3,316.0L176.3,316.7L176.4,317.5L176.5,318.2L176.5,319.0L176.6,319.7L176.7,320.5L176.7,321.2L176.8,322.0L176.9,322.7L177.0,323.5L177.0,324.2L177.1,325.0L177.2,325.7L177.3,326.5L177.3,327.2L177.4,327.9L177.5,328.7L177.6,329.4L177.8,330.2L177.9,330.9L178.0,331.7L178.1,332.4L178.2,333.1L178.4,333.9L178.6,334.6L178.8,335.3L179.0,336.0L179.3,336.7L179.6,337.4L180.0,338.0L180.5,338.5L181.1,338.9L181.8,339.2L182.5,339.3L183.3,339.4L184.0,339.4L184.8,339.4L185.5,339.4L185.9,339.4" fill="none" stroke="#0000fa" stroke-width="1.8" stroke-linejoin="round" stroke-linecap="round"/>
<path d="M51.5,327.9V327.9H54.2V323.1H58.1V332.7H61.6V338.5H65.0V337.5H68.3V338.5H71.6V339.8H75.0V338.9H81.8V340.4H88.5V339.1H91.4V338.5H96.2V340.4H99.7V341.7H103.6V339.4H106.8V331.2H110.1V327.5H113.6V332.1H118.4V330.8H120.9V317.3H124.8V302.3H128.0V293.2H130.9V289.7H134.8V290.9H140.6V285.9H144.4V281.6H147.3V281.6H148.9V282.6H152.7V280.7H155.6V280.1H159.5V282.0H163.0V292.2H166.2V298.0H169.5V306.7H173.0V325.6H176.4V334.6H179.7V336.2H182.6V336.5H186.5V337.1H194.2V337.5H200.9V339.1H204.8V339.8H211.5V340.4H218.3V339.1H222.1V339.4H228.9V338.9H235.6V338.5H242.3V339.1H245.6" fill="none" stroke="#151515" stroke-width="0.9" clip-path="url(#cL3)"/>
<text x="31.26" y="447.05" font-size="18.0" text-anchor="start" textLength="10.2" lengthAdjust="spacingAndGlyphs">0</text>
<text x="5.67" y="423.45" font-size="18.0" text-anchor="start" textLength="35.8" lengthAdjust="spacingAndGlyphs">0.05</text>
<text x="15.91" y="399.85" font-size="18.0" text-anchor="start" textLength="25.6" lengthAdjust="spacingAndGlyphs">0.1</text>
<text x="5.67" y="376.25" font-size="18.0" text-anchor="start" textLength="35.8" lengthAdjust="spacingAndGlyphs">0.15</text>
<text x="109.44" y="379.31" font-size="18.0" text-anchor="start" textLength="76.6" lengthAdjust="spacingAndGlyphs">J=12−11</text>
<clipPath id="cL4"><rect x="51.2" y="357.0125" width="194.3" height="107.9375"/></clipPath>
<path d="M109.3,441.6L110.1,441.6L110.8,441.6L111.6,441.6L112.3,441.6L113.1,441.6L113.8,441.6L114.6,441.6L115.3,441.5L115.8,441.1L116.3,440.5L116.7,439.8L117.0,439.2L117.3,438.5L117.5,437.8L117.7,437.1L117.9,436.3L118.2,435.6L118.4,434.9L118.5,434.2L118.7,433.4L118.8,432.7L119.0,432.0L119.1,431.2L119.3,430.5L119.4,429.8L119.6,429.0L119.7,428.3L119.8,427.6L120.0,426.8L120.1,426.1L120.2,425.3L120.3,424.6L120.5,423.9L120.6,423.1L120.7,422.4L120.9,421.6L121.0,420.9L121.1,420.2L121.2,419.4L121.4,418.7L121.5,417.9L121.6,417.2L121.7,416.5L121.9,415.7L122.0,415.0L122.2,414.3L122.4,413.6L122.7,412.8L122.9,412.1L123.2,411.4L123.6,410.9L124.2,410.4L124.8,409.9L125.4,409.6L126.1,409.5L126.9,409.4L127.6,409.4L128.4,409.3L129.1,409.2L129.9,409.3L130.6,409.3L131.4,409.4L132.1,409.4L132.9,409.5L133.6,409.5L134.4,409.6L135.1,409.6L135.8,409.5L136.6,409.5L137.3,409.4L138.1,409.4L138.8,409.3L139.6,409.3L140.3,409.2L141.1,409.1L141.8,409.0L142.6,408.9L143.3,408.8L144.0,408.7L144.8,408.5L145.5,408.4L146.3,408.4L147.0,408.3L147.8,408.2L148.5,408.1L149.2,408.2L149.8,408.6L150.4,408.9L151.1,409.0L151.9,409.0L152.6,409.1L153.4,409.2L154.1,409.3L154.9,409.3L155.6,409.4L156.4,409.4L157.1,409.4L157.9,409.4L158.6,409.4L159.4,409.4L160.1,409.4L160.9,409.4L161.6,409.4L162.4,409.4L163.1,409.4L163.9,409.4L164.6,409.4L165.4,409.3L166.1,409.3L166.9,409.3L167.6,409.3L168.4,409.2L169.1,409.2L169.9,409.3L170.6,409.4L171.3,409.5L172.0,409.8L172.5,410.2L173.0,410.8L173.4,411.4L173.6,412.1L173.8,412.8L174.0,413.6L174.2,414.3L174.4,415.0L174.5,415.8L174.6,416.5L174.8,417.2L174.9,418.0L175.0,418.7L175.1,419.5L175.3,420.2L175.4,420.9L175.5,421.7L175.6,422.4L175.7,423.2L175.8,423.9L175.9,424.7L176.0,425.4L176.1,426.1L176.2,426.9L176.3,427.6L176.4,428.4L176.5,429.1L176.6,429.9L176.7,430.6L176.9,431.3L177.0,432.1L177.1,432.8L177.2,433.6L177.3,434.3L177.4,435.0L177.6,435.8L177.7,436.5L177.9,437.2L178.0,438.0L178.2,438.7L178.6,439.4L178.9,440.0L179.4,440.6L179.9,441.1L180.6,441.3L181.3,441.5L182.1,441.6L182.8,441.6L183.5,441.6L184.3,441.6L185.0,441.6L185.5,441.6" fill="none" stroke="#0000fa" stroke-width="1.8" stroke-linejoin="round" stroke-linecap="round"/>
<path d="M51.5,436.8V436.8H53.9V451.2H57.3V439.7H61.2V435.8H64.8V440.0H68.5V452.8H72.2V432.3H75.8V439.3H79.5V441.0H83.1V443.5H86.8V447.4H90.5V456.0H94.3V436.2H98.2V439.1H102.0V452.2H105.9V448.3H109.3V427.1H113.0V449.3H116.7V434.8H120.5V424.2H124.4V397.3H128.0V400.5H131.7V406.5H135.4V404.6H139.0V412.7H142.7V418.5H146.3V419.1H147.2V400.8H150.8V389.8H158.4V397.9H162.2V400.8H165.7V394.0H169.5V400.8H173.2V432.5H177.1V439.9H180.7V442.2H184.4V445.1H188.2V438.7H191.9V442.2H195.5V456.6H199.2V446.0H202.9V441.8H206.5V435.8H210.4V453.7H214.2V451.4H221.6V430.6H225.4V439.9H229.1V444.1H232.7V439.3H236.4V447.0H240.2V429.7H243.1V436.4H246.4" fill="none" stroke="#151515" stroke-width="0.9" clip-path="url(#cL4)"/>
<text x="31.26" y="563.90" font-size="18.0" text-anchor="start" textLength="10.2" lengthAdjust="spacingAndGlyphs">0</text>
<text x="5.67" y="527.70" font-size="18.0" text-anchor="start" textLength="35.8" lengthAdjust="spacingAndGlyphs">0.05</text>
<text x="15.91" y="491.50" font-size="18.0" text-anchor="start" textLength="25.6" lengthAdjust="spacingAndGlyphs">0.1</text>
<text x="109.44" y="487.25" font-size="18.0" text-anchor="start" textLength="76.6" lengthAdjust="spacingAndGlyphs">J=11−10</text>
<clipPath id="cL5"><rect x="51.2" y="464.95" width="194.3" height="107.93750000000006"/></clipPath>
<path d="M110.3,559.1L111.1,559.1L111.8,559.1L112.6,559.1L113.3,559.1L114.1,559.1L114.8,559.1L115.4,558.8L116.0,558.3L116.5,557.8L116.8,557.1L117.0,556.4L117.2,555.7L117.4,555.0L117.6,554.2L117.8,553.5L117.9,552.8L118.0,552.0L118.1,551.3L118.2,550.5L118.3,549.8L118.4,549.1L118.4,548.3L118.5,547.6L118.6,546.8L118.7,546.1L118.8,545.3L118.9,544.6L119.0,543.8L119.1,543.1L119.1,542.4L119.2,541.6L119.3,540.9L119.4,540.1L119.5,539.4L119.6,538.6L119.6,537.9L119.7,537.1L119.8,536.4L119.9,535.6L120.0,534.9L120.1,534.2L120.1,533.4L120.2,532.7L120.3,531.9L120.4,531.2L120.5,530.4L120.6,529.7L120.6,528.9L120.7,528.2L120.8,527.4L120.9,526.7L121.0,526.0L121.1,525.2L121.2,524.5L121.3,523.7L121.4,523.0L121.5,522.2L121.6,521.5L121.7,520.8L121.8,520.0L122.0,519.3L122.2,518.6L122.3,517.8L122.5,517.1L122.7,516.4L123.0,515.7L123.5,515.1L124.0,514.6L124.5,514.1L125.2,513.8L125.9,513.6L126.6,513.4L127.3,513.3L128.1,513.3L128.8,513.3L129.6,513.3L130.3,513.4L131.1,513.4L131.8,513.4L132.6,513.4L133.3,513.4L134.1,513.4L134.8,513.4L135.6,513.4L136.3,513.3L137.1,513.3L137.8,513.3L138.6,513.2L139.3,513.1L140.1,513.0L140.8,512.9L141.5,512.8L142.3,512.6L143.0,512.5L143.8,512.4L144.5,512.3L145.2,512.3L146.0,512.3L146.7,512.3L147.5,512.3L148.2,512.3L149.0,512.3L149.7,512.3L150.5,512.4L151.2,512.4L152.0,512.5L152.7,512.6L153.5,512.8L154.2,512.9L154.9,513.0L155.7,513.1L156.4,513.3L157.2,513.4L157.9,513.4L158.7,513.4L159.4,513.4L160.2,513.4L160.9,513.4L161.7,513.4L162.4,513.4L163.2,513.4L163.9,513.4L164.7,513.4L165.4,513.4L166.2,513.4L166.9,513.4L167.7,513.3L168.4,513.3L169.2,513.3L169.9,513.3L170.6,513.4L171.4,513.5L172.1,513.7L172.7,514.1L173.2,514.6L173.6,515.3L173.9,515.9L174.1,516.6L174.3,517.4L174.4,518.1L174.6,518.8L174.7,519.6L174.8,520.3L174.9,521.1L175.0,521.8L175.1,522.5L175.2,523.3L175.2,524.0L175.3,524.8L175.4,525.5L175.5,526.3L175.5,527.0L175.6,527.8L175.7,528.5L175.8,529.3L175.8,530.0L175.9,530.8L176.0,531.5L176.0,532.3L176.1,533.0L176.2,533.7L176.2,534.5L176.3,535.2L176.4,536.0L176.4,536.7L176.5,537.5L176.6,538.2L176.6,539.0L176.7,539.7L176.8,540.5L176.8,541.2L176.9,542.0L177.0,542.7L177.0,543.5L177.1,544.2L177.2,545.0L177.2,545.7L177.3,546.4L177.4,547.2L177.4,547.9L177.5,548.7L177.6,549.4L177.7,550.2L177.7,550.9L177.8,551.7L177.9,552.4L178.0,553.2L178.1,553.9L178.3,554.6L178.5,555.3L178.7,556.1L178.9,556.8L179.1,557.5L179.6,558.0L180.2,558.4L180.9,558.7L181.6,558.9L182.3,559.0L183.1,559.0L183.8,559.0L184.6,559.1L185.2,559.1L185.5,559.1" fill="none" stroke="#0000fa" stroke-width="1.8" stroke-linejoin="round" stroke-linecap="round"/>
<path d="M51.5,558.1V558.5H53.9V559.7H57.7V559.7H63.5V557.6H64.5V557.2H71.2V556.6H78.9V556.6H85.6V557.0H91.4V558.1H93.4V558.5H100.1V557.2H103.9V556.2H107.8V557.8H109.7V558.1H113.6V556.2H116.5V556.2H117.4V546.6H121.3V529.2H125.1V510.0H129.0V502.3H136.7V502.8H145.4V498.0H147.3V499.4H149.5V496.5H153.7V500.3H157.2V504.2H161.0V508.0H164.9V510.9H169.1V517.7H173.6V544.3H177.2V558.1H180.7V559.1H185.5V560.5H189.4V561.6H193.2V560.1H196.1V559.1H199.9V557.8H205.7V556.6H213.4V555.8H221.1V555.4H228.9V554.3H233.7V553.3H238.1V554.3H241.4V555.3H245.6" fill="none" stroke="#151515" stroke-width="0.9" clip-path="url(#cL5)"/>
<text x="31.26" y="671.05" font-size="18.0" text-anchor="start" textLength="10.2" lengthAdjust="spacingAndGlyphs">0</text>
<text x="5.67" y="630.25" font-size="18.0" text-anchor="start" textLength="35.8" lengthAdjust="spacingAndGlyphs">0.05</text>
<text x="15.91" y="589.45" font-size="18.0" text-anchor="start" textLength="25.6" lengthAdjust="spacingAndGlyphs">0.1</text>
<text x="114.88" y="595.19" font-size="18.0" text-anchor="start" textLength="65.7" lengthAdjust="spacingAndGlyphs">J=10−9</text>
<clipPath id="cL6"><rect x="51.2" y="572.8875" width="194.3" height="107.9375"/></clipPath>
<path d="M110.3,665.7L111.1,665.7L111.8,665.7L112.6,665.7L113.3,665.7L114.0,665.7L114.7,665.5L115.3,665.1L115.9,664.6L116.4,664.1L116.7,663.4L116.9,662.7L117.1,662.0L117.3,661.3L117.5,660.5L117.7,659.8L117.8,659.1L118.0,658.3L118.0,657.6L118.1,656.8L118.2,656.1L118.3,655.4L118.4,654.6L118.5,653.9L118.6,653.1L118.7,652.4L118.8,651.6L118.9,650.9L118.9,650.1L119.0,649.4L119.1,648.6L119.1,647.9L119.2,647.2L119.3,646.4L119.3,645.7L119.4,644.9L119.5,644.2L119.5,643.4L119.6,642.7L119.7,641.9L119.7,641.2L119.8,640.4L119.9,639.7L119.9,638.9L120.0,638.2L120.0,637.4L120.1,636.7L120.2,635.9L120.2,635.2L120.3,634.5L120.4,633.7L120.5,633.0L120.6,632.2L120.7,631.5L120.8,630.7L120.9,630.0L121.0,629.2L121.1,628.5L121.1,627.8L121.3,627.0L121.4,626.3L121.7,625.6L121.9,624.9L122.1,624.2L122.4,623.5L122.7,622.8L123.3,622.3L123.9,621.9L124.6,621.6L125.3,621.3L126.0,621.1L126.7,620.9L127.4,620.9L128.2,620.9L128.9,621.0L129.7,621.0L130.4,621.1L131.2,621.1L131.9,621.2L132.7,621.2L133.4,621.2L134.2,621.2L134.9,621.2L135.7,621.2L136.4,621.2L137.2,621.2L137.9,621.2L138.7,621.2L139.4,621.1L140.2,621.0L140.9,620.8L141.6,620.7L142.4,620.6L143.1,620.5L143.9,620.3L144.6,620.3L145.3,620.3L146.1,620.3L146.8,620.3L147.6,620.3L148.3,620.3L149.1,620.3L149.8,620.3L150.6,620.3L151.3,620.3L152.1,620.3L152.8,620.4L153.6,620.5L154.3,620.7L155.1,620.8L155.8,620.9L156.5,621.0L157.3,621.2L158.0,621.2L158.8,621.2L159.5,621.2L160.3,621.2L161.0,621.2L161.8,621.2L162.5,621.2L163.3,621.2L164.0,621.2L164.8,621.2L165.5,621.2L166.3,621.1L167.0,621.1L167.8,621.0L168.5,621.0L169.3,620.9L170.0,620.9L170.7,620.9L171.5,621.1L172.1,621.4L172.7,621.8L173.1,622.3L173.3,623.0L173.6,623.8L173.8,624.5L174.0,625.2L174.1,625.9L174.2,626.7L174.3,627.4L174.4,628.2L174.5,628.9L174.6,629.6L174.7,630.4L174.8,631.1L174.8,631.9L174.9,632.6L175.0,633.4L175.1,634.1L175.1,634.9L175.2,635.6L175.3,636.4L175.3,637.1L175.4,637.9L175.5,638.6L175.5,639.4L175.6,640.1L175.7,640.8L175.7,641.6L175.8,642.3L175.9,643.1L175.9,643.8L176.0,644.6L176.1,645.3L176.1,646.1L176.2,646.8L176.3,647.6L176.3,648.3L176.4,649.1L176.5,649.8L176.5,650.6L176.6,651.3L176.7,652.1L176.7,652.8L176.8,653.5L176.9,654.3L177.0,655.0L177.0,655.8L177.1,656.5L177.2,657.3L177.3,658.0L177.5,658.7L177.7,659.5L177.8,660.2L178.0,660.9L178.1,661.7L178.3,662.4L178.6,663.1L179.0,663.7L179.4,664.3L179.8,664.9L180.5,665.2L181.2,665.4L181.9,665.6L182.6,665.7L183.4,665.7L184.1,665.7L184.9,665.7L185.5,665.7L185.9,665.7" fill="none" stroke="#0000fa" stroke-width="1.8" stroke-linejoin="round" stroke-linecap="round"/>
<path d="M51.5,665.5V667.1H52.9V666.7H56.7V665.7H61.6V664.8H69.3V663.6H76.0V664.8H79.9V664.0H83.7V663.4H90.5V662.8H97.2V663.2H101.6V666.1H105.9V663.2H110.1V662.3H115.5V659.4H119.7V642.0H124.2V621.8H128.0V613.1H132.9V610.8H138.6V609.7H146.3V605.8H147.3V605.8H155.2V609.3H159.5V613.1H164.3V616.0H169.1V618.9H173.6V646.3H177.4V663.2H181.6V666.1H186.5V665.1H191.3V664.8H200.9V664.4H211.5V665.1H216.3V665.5H223.1V667.1H226.9V667.5H231.7V665.7H236.6V665.1H245.6" fill="none" stroke="#151515" stroke-width="0.9" clip-path="url(#cL6)"/>
<text x="31.26" y="772.70" font-size="18.0" text-anchor="start" textLength="10.2" lengthAdjust="spacingAndGlyphs">0</text>
<text x="5.67" y="739.91" font-size="18.0" text-anchor="start" textLength="35.8" lengthAdjust="spacingAndGlyphs">0.03</text>
<text x="5.67" y="707.12" font-size="18.0" text-anchor="start" textLength="35.8" lengthAdjust="spacingAndGlyphs">0.06</text>
<text x="120.33" y="703.12" font-size="18.0" text-anchor="start" textLength="54.8" lengthAdjust="spacingAndGlyphs">J=8−7</text>
<clipPath id="cL7"><rect x="51.2" y="680.825" width="194.3" height="107.9375"/></clipPath>
<path d="M110.3,767.9L111.1,767.9L111.8,767.9L112.6,767.9L113.3,767.9L114.1,767.9L114.8,767.9L115.4,767.6L116.0,767.1L116.4,766.5L116.8,765.9L117.0,765.2L117.1,764.5L117.3,763.7L117.5,763.0L117.7,762.3L117.8,761.5L117.9,760.8L118.0,760.0L118.1,759.3L118.2,758.6L118.3,757.8L118.4,757.1L118.5,756.3L118.6,755.6L118.7,754.8L118.8,754.1L118.8,753.3L118.9,752.6L119.0,751.9L119.1,751.1L119.2,750.4L119.3,749.6L119.3,748.9L119.4,748.1L119.5,747.4L119.6,746.6L119.7,745.9L119.8,745.1L119.8,744.4L119.9,743.7L120.0,742.9L120.1,742.2L120.2,741.4L120.3,740.7L120.4,739.9L120.5,739.2L120.6,738.5L120.7,737.7L120.8,737.0L121.0,736.2L121.2,735.5L121.3,734.8L121.5,734.0L121.6,733.3L121.8,732.6L122.2,731.9L122.6,731.4L123.1,730.8L123.6,730.3L124.3,730.0L125.0,729.7L125.7,729.5L126.5,729.5L127.2,729.5L128.0,729.5L128.7,729.6L129.5,729.6L130.2,729.6L131.0,729.7L131.7,729.7L132.5,729.8L133.2,729.8L133.9,729.8L134.7,729.8L135.4,729.8L136.2,729.8L136.9,729.8L137.7,729.8L138.4,729.8L139.2,729.7L139.9,729.7L140.7,729.6L141.4,729.5L142.2,729.4L142.9,729.4L143.7,729.3L144.4,729.2L145.2,729.2L145.9,729.2L146.7,729.2L147.4,729.2L148.2,729.2L148.9,729.2L149.7,729.3L150.4,729.3L151.2,729.4L151.9,729.4L152.7,729.5L153.4,729.6L154.2,729.6L154.9,729.7L155.6,729.8L156.4,729.9L157.1,729.9L157.9,730.0L158.6,730.0L159.4,729.9L160.1,729.9L160.9,729.9L161.6,729.9L162.4,729.9L163.1,729.8L163.9,729.8L164.6,729.8L165.4,729.8L166.1,729.8L166.9,729.7L167.6,729.7L168.4,729.7L169.1,729.7L169.9,729.6L170.6,729.6L171.4,729.8L172.0,730.0L172.7,730.3L173.1,730.9L173.4,731.6L173.6,732.3L173.9,733.0L174.1,733.7L174.2,734.4L174.3,735.2L174.5,735.9L174.6,736.6L174.7,737.4L174.8,738.1L174.9,738.9L175.0,739.6L175.1,740.4L175.2,741.1L175.3,741.9L175.3,742.6L175.4,743.3L175.5,744.1L175.6,744.8L175.7,745.6L175.8,746.3L175.8,747.1L175.9,747.8L176.0,748.6L176.1,749.3L176.2,750.0L176.3,750.8L176.4,751.5L176.5,752.3L176.6,753.0L176.6,753.8L176.7,754.5L176.8,755.3L176.9,756.0L177.0,756.7L177.1,757.5L177.3,758.2L177.4,759.0L177.5,759.7L177.6,760.4L177.8,761.2L177.9,761.9L178.0,762.7L178.3,763.4L178.5,764.1L178.7,764.8L179.0,765.5L179.3,766.1L179.8,766.7L180.4,767.2L181.0,767.6L181.7,767.8L182.4,767.9L183.2,767.9L183.9,767.9L184.7,767.9L185.3,767.9L185.5,767.9" fill="none" stroke="#0000fa" stroke-width="1.8" stroke-linejoin="round" stroke-linecap="round"/>
<path d="M51.5,764.5V764.5H56.7V767.7H62.5V764.1H67.9V767.0H73.5V767.4H84.7V770.3H95.9V764.5H101.4V771.8H107.2V765.8H112.6V766.4H118.0V754.5H123.6V728.3H129.4V723.4H134.8V722.5H140.6V723.0H146.0V715.3H146.0V715.3H151.8V717.3H157.6V724.4H163.3V725.0H169.1V723.6H174.5V758.7H180.1V766.4H185.7V767.9H191.3V766.4H196.7V758.7H202.3V755.4H207.7V759.3H213.4V762.2H219.2V763.5H224.6V764.9H230.2V763.5H235.8V760.6H241.4V751.9H245.6" fill="none" stroke="#151515" stroke-width="0.9" clip-path="url(#cL7)"/>
<text class="b" x="184.5" y="733.5" font-size="14.2" textLength="8.2" lengthAdjust="spacingAndGlyphs">C</text>
<text class="b" x="193.4" y="727.0" font-size="10.6" textLength="9.8" lengthAdjust="spacingAndGlyphs">13</text>
<text class="b" x="203.8" y="733.5" font-size="14.2" textLength="34.4" lengthAdjust="spacingAndGlyphs">CCCH</text>
<path d="M226.8,738.5V755" stroke="#222" stroke-width="1" fill="none"/>
<path d="M226.8,758.8L220.3,747.8L226.8,753.6L233.3,747.8Z" fill="#111"/>
<text x="31.26" y="879.85" font-size="18.0" text-anchor="start" textLength="10.2" lengthAdjust="spacingAndGlyphs">0</text>
<text x="5.67" y="845.26" font-size="18.0" text-anchor="start" textLength="35.8" lengthAdjust="spacingAndGlyphs">0.03</text>
<text x="5.67" y="810.67" font-size="18.0" text-anchor="start" textLength="35.8" lengthAdjust="spacingAndGlyphs">0.06</text>
<text x="120.33" y="811.06" font-size="18.0" text-anchor="start" textLength="54.8" lengthAdjust="spacingAndGlyphs">J=7−6</text>
<clipPath id="cL8"><rect x="51.2" y="788.7625" width="194.3" height="107.9375"/></clipPath>
<path d="M110.3,874.8L111.1,874.8L111.8,874.8L112.6,874.8L113.3,874.8L114.1,874.8L114.8,874.7L115.5,874.5L116.1,874.1L116.6,873.6L117.0,873.0L117.2,872.2L117.4,871.5L117.6,870.8L117.8,870.1L118.0,869.3L118.1,868.6L118.2,867.9L118.3,867.1L118.4,866.4L118.5,865.6L118.6,864.9L118.7,864.2L118.8,863.4L118.9,862.7L119.0,861.9L119.1,861.2L119.2,860.4L119.3,859.7L119.4,858.9L119.5,858.2L119.6,857.5L119.6,856.7L119.7,856.0L119.8,855.2L119.9,854.5L120.0,853.7L120.1,853.0L120.2,852.3L120.4,851.5L120.5,850.8L120.6,850.0L120.7,849.3L120.8,848.6L121.0,847.8L121.3,847.1L121.6,846.4L121.9,845.8L122.2,845.1L122.8,844.6L123.4,844.2L124.1,843.9L124.8,843.7L125.5,843.6L126.3,843.5L127.0,843.4L127.7,843.4L128.5,843.5L129.2,843.5L130.0,843.5L130.7,843.6L131.5,843.6L132.2,843.6L133.0,843.7L133.7,843.7L134.5,843.7L135.2,843.7L136.0,843.7L136.7,843.7L137.5,843.6L138.2,843.6L139.0,843.6L139.7,843.5L140.5,843.5L141.2,843.4L142.0,843.4L142.7,843.4L143.5,843.3L144.2,843.3L145.0,843.2L145.7,843.2L146.5,843.2L147.2,843.1L148.0,843.1L148.7,843.0L149.5,843.1L150.2,843.1L150.9,843.3L151.7,843.3L152.4,843.4L153.2,843.4L153.9,843.5L154.7,843.5L155.4,843.6L156.2,843.6L156.9,843.6L157.7,843.7L158.4,843.7L159.2,843.7L159.9,843.7L160.7,843.7L161.4,843.7L162.2,843.6L162.9,843.6L163.7,843.6L164.4,843.5L165.2,843.5L165.9,843.4L166.7,843.4L167.4,843.4L168.2,843.3L168.9,843.3L169.7,843.3L170.4,843.2L171.1,843.3L171.8,843.5L172.5,843.9L172.8,844.4L173.1,845.1L173.4,845.8L173.6,846.5L173.8,847.3L174.0,848.0L174.1,848.7L174.2,849.5L174.3,850.2L174.5,851.0L174.6,851.7L174.7,852.4L174.8,853.2L174.9,853.9L175.0,854.7L175.1,855.4L175.2,856.2L175.3,856.9L175.4,857.6L175.5,858.4L175.6,859.1L175.7,859.9L175.8,860.6L175.9,861.4L176.0,862.1L176.1,862.8L176.2,863.6L176.3,864.3L176.4,865.1L176.5,865.8L176.6,866.6L176.8,867.3L176.9,868.0L177.1,868.8L177.3,869.5L177.4,870.2L177.6,871.0L177.8,871.7L178.1,872.3L178.5,873.0L178.9,873.6L179.4,874.1L180.1,874.4L180.8,874.6L181.5,874.8L182.3,874.8L183.0,874.8L183.8,874.8L184.5,874.8L185.2,874.8L185.9,874.8" fill="none" stroke="#0000fa" stroke-width="1.8" stroke-linejoin="round" stroke-linecap="round"/>
<path d="M51.5,870.0V870.0H57.7V868.2H63.9V869.6H70.2V871.5H77.0V875.4H83.1V877.3H89.5V874.4H96.2V872.1H102.4V873.1H108.8V868.6H115.1V856.5H121.3V840.7H127.6V829.5H134.2V825.3H140.6V821.4H146.9V820.5H147.0V820.5H153.3V828.2H159.9V830.7H166.2V836.8H172.6V854.2H179.1V867.3H185.5V869.0H191.9V870.2H198.4V872.1H204.8V872.5H217.3V873.4H223.6V873.1H230.2V872.5H236.6V873.1H242.9V875.0H245.6" fill="none" stroke="#151515" stroke-width="0.9" clip-path="url(#cL8)"/>
<text x="304.76" y="129.70" font-size="18.0" text-anchor="start" textLength="10.2" lengthAdjust="spacingAndGlyphs">0</text>
<text x="279.17" y="94.25" font-size="18.0" text-anchor="start" textLength="35.8" lengthAdjust="spacingAndGlyphs">0.05</text>
<text x="289.41" y="58.80" font-size="18.0" text-anchor="start" textLength="25.6" lengthAdjust="spacingAndGlyphs">0.1</text>
<text x="382.69" y="55.50" font-size="18.0" text-anchor="start" textLength="76.6" lengthAdjust="spacingAndGlyphs">J=27−26</text>
<clipPath id="cR1"><rect x="324.7" y="33.2" width="193.8" height="107.93749999999999"/></clipPath>
<path d="M384.3,124.4L385.1,124.4L385.8,124.4L386.6,124.4L387.3,124.4L388.0,124.3L388.7,124.1L389.3,123.7L389.9,123.3L390.4,122.7L390.7,122.1L390.9,121.4L391.1,120.6L391.4,119.9L391.6,119.2L391.8,118.5L391.9,117.7L392.1,117.0L392.2,116.3L392.3,115.5L392.4,114.8L392.6,114.1L392.7,113.3L392.8,112.6L392.9,111.8L393.1,111.1L393.2,110.4L393.3,109.6L393.4,108.9L393.5,108.1L393.6,107.4L393.7,106.6L393.8,105.9L394.0,105.2L394.1,104.4L394.2,103.7L394.3,102.9L394.5,102.2L394.6,101.5L394.8,100.7L394.9,100.0L395.1,99.3L395.2,98.5L395.4,97.8L395.7,97.1L395.9,96.4L396.2,95.7L396.4,95.0L396.7,94.3L397.0,93.6L397.3,92.9L397.7,92.3L398.0,91.6L398.3,90.9L398.7,90.2L399.0,89.6L399.4,88.9L399.8,88.3L400.1,87.6L400.5,87.0L400.9,86.4L401.4,85.8L401.9,85.2L402.4,84.7L403.0,84.3L403.7,84.0L404.4,83.8L405.1,83.6L405.8,83.3L406.5,83.0L407.0,82.6L407.6,82.0L408.1,81.5L408.6,81.0L409.1,80.4L409.6,79.8L410.1,79.3L410.6,78.7L411.2,78.3L411.8,77.9L412.5,77.5L413.1,77.2L413.8,76.9L414.4,76.5L414.9,76.0L415.3,75.3L415.7,74.7L416.0,74.0L416.3,73.3L416.4,72.6L416.6,71.9L416.8,71.1L417.0,70.4L417.1,69.7L417.3,69.0L417.5,68.2L417.6,67.5L417.8,66.8L418.0,66.0L418.1,65.3L418.3,64.6L418.5,63.8L418.7,63.1L418.9,62.4L419.2,61.7L419.6,61.1L419.9,60.4L420.4,59.8L420.9,59.4L421.6,59.3L422.2,59.5L422.7,60.0L423.1,60.6L423.5,61.2L423.8,61.9L424.0,62.6L424.2,63.3L424.4,64.1L424.6,64.8L424.8,65.5L425.0,66.2L425.2,67.0L425.3,67.7L425.5,68.4L425.7,69.2L425.9,69.9L426.1,70.6L426.3,71.3L426.5,72.0L426.7,72.8L426.9,73.5L427.2,74.1L427.6,74.8L428.1,75.3L428.6,75.9L429.3,76.2L429.9,76.6L430.6,76.9L431.2,77.3L431.8,77.8L432.3,78.3L432.8,78.9L433.2,79.5L433.7,80.1L434.1,80.7L434.5,81.3L435.0,81.9L435.5,82.4L436.1,82.8L436.8,83.2L437.5,83.4L438.2,83.6L438.9,83.7L439.6,84.0L440.2,84.4L440.8,84.9L441.3,85.4L441.7,86.0L442.1,86.6L442.5,87.3L442.9,87.9L443.3,88.6L443.7,89.2L444.1,89.8L444.5,90.5L444.8,91.1L445.2,91.8L445.5,92.5L445.9,93.1L446.2,93.8L446.5,94.5L446.8,95.2L447.1,95.9L447.3,96.6L447.5,97.3L447.7,98.0L447.9,98.8L448.1,99.5L448.3,100.2L448.4,100.9L448.6,101.7L448.7,102.4L448.8,103.2L448.9,103.9L449.1,104.6L449.2,105.4L449.3,106.1L449.4,106.9L449.6,107.6L449.7,108.3L449.8,109.1L450.0,109.8L450.1,110.5L450.2,111.3L450.3,112.0L450.5,112.8L450.6,113.5L450.7,114.2L450.9,115.0L451.0,115.7L451.2,116.4L451.3,117.2L451.5,117.9L451.6,118.7L451.8,119.4L452.1,120.1L452.4,120.8L452.7,121.4L453.0,122.1L453.4,122.7L453.9,123.2L454.5,123.7L455.2,124.0L455.9,124.1L456.6,124.2L457.3,124.2L458.1,124.2L458.6,124.2L458.9,124.2" fill="none" stroke="#0000fa" stroke-width="1.8" stroke-linejoin="round" stroke-linecap="round"/>
<path d="M325.0,124.2V130.9H325.0V130.9H332.1V124.2H335.6V123.2H338.5V125.7H342.3V127.1H345.8V125.5H349.0V129.0H352.5V133.2H355.8V130.9H359.3V130.5H362.5V127.1H366.0V125.5H369.3V130.0H372.6V126.7H376.0V124.8H379.5V129.0H382.8V129.0H386.0V125.5H389.5V127.1H392.8V122.8H396.3V114.5H399.5V105.9H403.0V100.5H406.3V96.2H409.7V92.8H413.0V86.6H416.5V77.9H419.8V77.9H419.8V79.3H421.9V84.3H425.4V86.2H428.6V87.6H432.1V90.1H435.4V95.3H438.8V100.5H442.1V103.6H445.6V114.5H448.9V125.1H452.1V128.0H455.6V124.8H458.9V123.6H462.4V125.5H465.6V126.7H469.1V129.4H472.4V128.0H475.8V126.1H479.1V127.1H482.6V127.5H485.9V133.2H492.6V128.0H496.1V125.1H499.3V126.1H502.8V122.3H506.1V126.1H509.6V124.2H512.8V122.8H516.3V121.7H518.6" fill="none" stroke="#151515" stroke-width="0.9" clip-path="url(#cR1)"/>
<text x="304.76" y="237.80" font-size="18.0" text-anchor="start" textLength="10.2" lengthAdjust="spacingAndGlyphs">0</text>
<text x="279.17" y="203.65" font-size="18.0" text-anchor="start" textLength="35.8" lengthAdjust="spacingAndGlyphs">0.05</text>
<text x="289.41" y="169.50" font-size="18.0" text-anchor="start" textLength="25.6" lengthAdjust="spacingAndGlyphs">0.1</text>
<text x="382.69" y="163.44" font-size="18.0" text-anchor="start" textLength="76.6" lengthAdjust="spacingAndGlyphs">J=26−25</text>
<clipPath id="cR2"><rect x="324.7" y="141.1375" width="193.8" height="107.9375"/></clipPath>
<path d="M384.3,232.8L385.1,232.8L385.8,232.8L386.6,232.8L387.3,232.8L388.0,232.7L388.7,232.5L389.3,232.1L389.9,231.6L390.4,231.1L390.7,230.4L390.9,229.7L391.1,229.0L391.3,228.3L391.5,227.6L391.7,226.8L391.9,226.1L392.0,225.4L392.1,224.6L392.2,223.9L392.3,223.2L392.5,222.4L392.6,221.7L392.7,220.9L392.8,220.2L392.9,219.4L393.1,218.7L393.2,218.0L393.3,217.2L393.4,216.5L393.5,215.7L393.6,215.0L393.7,214.3L393.8,213.5L393.9,212.8L394.0,212.0L394.1,211.3L394.2,210.5L394.3,209.8L394.5,209.1L394.6,208.3L394.7,207.6L394.8,206.8L395.0,206.1L395.1,205.4L395.2,204.6L395.4,203.9L395.7,203.2L395.9,202.5L396.2,201.8L396.4,201.1L396.7,200.4L397.0,199.7L397.4,199.0L397.7,198.4L398.1,197.7L398.5,197.1L398.8,196.4L399.2,195.8L399.6,195.1L399.9,194.5L400.3,193.8L400.7,193.2L401.1,192.6L401.6,192.0L402.1,191.4L402.6,191.0L403.3,190.7L404.0,190.5L404.7,190.4L405.5,190.2L406.2,190.0L406.8,189.7L407.4,189.2L407.9,188.7L408.5,188.2L409.0,187.6L409.5,187.1L410.0,186.5L410.5,186.0L411.1,185.5L411.7,185.0L412.3,184.6L412.9,184.2L413.6,183.9L414.2,183.5L414.8,183.0L415.2,182.4L415.5,181.7L415.8,181.1L416.1,180.4L416.4,179.7L416.6,179.0L416.8,178.2L417.0,177.5L417.2,176.8L417.4,176.1L417.6,175.3L417.8,174.6L418.0,173.9L418.2,173.2L418.4,172.5L418.6,171.7L418.9,171.0L419.1,170.3L419.5,169.7L419.9,169.1L420.4,168.5L420.9,168.1L421.6,167.8L422.2,168.0L422.7,168.4L423.1,169.0L423.5,169.6L423.8,170.3L424.0,171.0L424.2,171.7L424.4,172.5L424.6,173.2L424.8,173.9L425.0,174.6L425.1,175.4L425.3,176.1L425.5,176.8L425.6,177.6L425.8,178.3L426.0,179.0L426.3,179.7L426.5,180.4L426.8,181.1L427.1,181.8L427.5,182.4L428.0,183.0L428.5,183.4L429.2,183.8L429.8,184.1L430.5,184.5L431.1,184.9L431.7,185.3L432.2,185.9L432.7,186.4L433.2,187.0L433.7,187.5L434.2,188.1L434.7,188.6L435.3,189.1L435.9,189.5L436.6,189.8L437.3,190.0L438.0,190.2L438.8,190.3L439.4,190.6L440.0,191.0L440.6,191.5L441.2,192.0L441.6,192.6L442.1,193.2L442.5,193.8L442.9,194.4L443.4,195.0L443.8,195.7L444.2,196.3L444.6,196.9L445.0,197.5L445.4,198.2L445.7,198.9L446.0,199.5L446.4,200.2L446.7,200.9L447.0,201.6L447.2,202.3L447.3,203.0L447.5,203.8L447.7,204.5L447.8,205.2L448.0,206.0L448.2,206.7L448.3,207.4L448.5,208.2L448.6,208.9L448.7,209.6L448.8,210.4L448.9,211.1L449.1,211.9L449.2,212.6L449.3,213.3L449.4,214.1L449.5,214.8L449.6,215.6L449.8,216.3L449.9,217.0L450.0,217.8L450.1,218.5L450.2,219.3L450.4,220.0L450.5,220.8L450.6,221.5L450.7,222.2L450.9,223.0L451.0,223.7L451.1,224.4L451.3,225.2L451.4,225.9L451.6,226.7L451.7,227.4L451.9,228.1L452.2,228.8L452.5,229.5L452.8,230.2L453.2,230.8L453.6,231.4L454.2,231.8L454.8,232.2L455.5,232.5L456.2,232.6L457.0,232.6L457.7,232.7L458.4,232.7L459.1,232.7L459.5,232.8" fill="none" stroke="#0000fa" stroke-width="1.8" stroke-linejoin="round" stroke-linecap="round"/>
<path d="M325.0,226.4V226.4H326.9V228.3H329.8V229.3H333.2V226.4H336.5V220.0H340.0V222.0H343.3V225.8H346.7V221.2H350.0V224.5H353.5V230.3H356.8V231.2H360.2V232.2H363.5V235.1H366.8V238.0H370.2V233.1H373.5V235.1H377.0V237.0H380.3V234.1H383.7V234.7H396.3V225.4H399.5V216.8H403.0V204.2H406.3V199.4H409.7V194.6H413.0V190.8H419.8V191.1H419.8V191.1H423.2V196.2H426.7V203.3H430.0V197.5H433.5V203.9H436.7V210.0H440.2V208.5H443.5V216.8H446.9V228.9H450.2V229.3H453.7V235.1H457.0V234.1H460.4V229.7H463.7V231.2H467.2V232.8H470.4V233.1H473.9V228.9H477.2V229.7H480.7V230.3H487.4V229.7H494.1V230.1H500.9V229.7H504.7V227.4H509.6V223.5H512.4V224.5H515.3V226.4H518.6" fill="none" stroke="#151515" stroke-width="0.9" clip-path="url(#cR2)"/>
<text x="304.76" y="347.15" font-size="18.0" text-anchor="start" textLength="10.2" lengthAdjust="spacingAndGlyphs">0</text>
<text x="279.17" y="316.15" font-size="18.0" text-anchor="start" textLength="35.8" lengthAdjust="spacingAndGlyphs">0.05</text>
<text x="289.41" y="285.15" font-size="18.0" text-anchor="start" textLength="25.6" lengthAdjust="spacingAndGlyphs">0.1</text>
<text x="382.69" y="271.38" font-size="18.0" text-anchor="start" textLength="76.6" lengthAdjust="spacingAndGlyphs">J=24−23</text>
<clipPath id="cR3"><rect x="324.7" y="249.075" width="193.8" height="107.9375"/></clipPath>
<path d="M384.3,342.1L385.1,342.1L385.8,342.1L386.6,342.1L387.3,342.1L388.0,342.0L388.7,341.8L389.3,341.4L389.8,340.9L390.3,340.3L390.6,339.6L390.8,338.9L391.0,338.2L391.2,337.5L391.4,336.8L391.6,336.1L391.8,335.3L391.9,334.6L392.1,333.8L392.2,333.1L392.3,332.4L392.4,331.6L392.5,330.9L392.6,330.1L392.7,329.4L392.8,328.7L392.9,327.9L393.0,327.2L393.1,326.4L393.2,325.7L393.3,324.9L393.4,324.2L393.5,323.5L393.6,322.7L393.7,322.0L393.8,321.2L393.9,320.5L394.0,319.7L394.1,319.0L394.3,318.3L394.4,317.5L394.5,316.8L394.6,316.0L394.7,315.3L394.9,314.6L395.0,313.8L395.1,313.1L395.2,312.3L395.4,311.6L395.6,310.9L395.9,310.2L396.1,309.5L396.4,308.8L396.6,308.1L396.9,307.4L397.3,306.7L397.6,306.1L398.0,305.4L398.4,304.8L398.8,304.1L399.2,303.5L399.6,302.9L400.0,302.2L400.4,301.6L400.8,301.0L401.2,300.3L401.6,299.7L402.1,299.1L402.6,298.6L403.2,298.3L403.9,298.0L404.6,297.9L405.3,297.7L406.1,297.4L406.7,297.1L407.3,296.7L407.9,296.2L408.4,295.7L408.9,295.2L409.5,294.7L410.1,294.2L410.7,293.7L411.3,293.3L412.0,293.0L412.7,292.7L413.4,292.5L414.1,292.2L414.7,291.8L415.2,291.3L415.5,290.7L415.9,290.0L416.2,289.3L416.5,288.6L416.7,287.9L417.0,287.2L417.2,286.5L417.4,285.8L417.6,285.1L417.8,284.3L418.1,283.6L418.4,282.9L418.7,282.3L419.0,281.6L419.4,280.9L419.8,280.4L420.4,279.9L421.0,279.5L421.6,279.3L422.3,279.4L422.8,279.9L423.3,280.4L423.7,281.0L424.0,281.7L424.2,282.4L424.4,283.2L424.6,283.9L424.9,284.6L425.1,285.3L425.3,286.0L425.5,286.7L425.7,287.5L426.0,288.2L426.2,288.9L426.5,289.6L426.8,290.3L427.1,290.9L427.6,291.5L428.2,292.0L428.8,292.4L429.4,292.7L430.1,293.0L430.8,293.4L431.4,293.8L432.0,294.2L432.6,294.7L433.2,295.1L433.8,295.6L434.4,296.1L435.0,296.5L435.7,296.8L436.4,297.0L437.1,297.2L437.8,297.3L438.6,297.4L439.3,297.6L439.9,297.9L440.5,298.3L441.1,298.8L441.6,299.3L442.1,299.9L442.6,300.5L443.1,301.1L443.5,301.6L444.0,302.2L444.4,302.8L444.9,303.4L445.3,304.0L445.7,304.7L446.2,305.3L446.6,305.9L446.9,306.6L447.1,307.3L447.3,308.0L447.5,308.7L447.6,309.5L447.8,310.2L448.0,310.9L448.1,311.7L448.3,312.4L448.4,313.1L448.5,313.9L448.6,314.6L448.7,315.4L448.8,316.1L448.9,316.9L449.0,317.6L449.1,318.3L449.2,319.1L449.3,319.8L449.4,320.6L449.5,321.3L449.6,322.1L449.7,322.8L449.8,323.5L449.9,324.3L450.0,325.0L450.1,325.8L450.2,326.5L450.3,327.3L450.4,328.0L450.5,328.7L450.6,329.5L450.7,330.2L450.8,331.0L451.0,331.7L451.1,332.5L451.2,333.2L451.3,333.9L451.5,334.7L451.6,335.4L451.8,336.1L452.0,336.8L452.2,337.5L452.5,338.2L452.8,338.9L453.1,339.6L453.5,340.2L454.0,340.7L454.6,341.2L455.2,341.6L455.9,341.7L456.7,341.8L457.4,341.8L458.2,341.9L458.8,341.9L459.5,341.9" fill="none" stroke="#0000fa" stroke-width="1.8" stroke-linejoin="round" stroke-linecap="round"/>
<path d="M325.0,336.9V336.3H329.8V335.7H333.2V340.2H336.9V342.1H340.4V341.1H344.2V342.1H348.1V343.1H351.9V342.1H355.8V341.5H359.6V343.5H363.5V344.0H367.4V340.2H371.2V341.1H374.7V344.4H378.5V342.7H382.4V343.5H386.0V344.0H389.9V340.8H393.7V333.8H397.2V325.3H400.7V311.3H404.5V305.5H408.2V304.5H412.1V303.0H415.9V296.4H419.8V295.5H419.8V295.5H423.2V303.2H427.1V302.6H434.4V311.3H438.3V315.1H441.7V317.6H445.6V331.9H449.3V343.1H453.1V345.0H457.0V341.5H460.4V340.2H464.3V339.2H468.1V338.4H472.0V341.1H475.8V344.0H479.3V343.5H483.0V339.2H490.3V343.1H494.1V344.6H498.0V344.0H501.9V345.4H505.7V345.0H509.6V342.1H513.4V341.5H518.6" fill="none" stroke="#151515" stroke-width="0.9" clip-path="url(#cR3)"/>
<text x="304.76" y="455.85" font-size="18.0" text-anchor="start" textLength="10.2" lengthAdjust="spacingAndGlyphs">0</text>
<text x="279.17" y="426.70" font-size="18.0" text-anchor="start" textLength="35.8" lengthAdjust="spacingAndGlyphs">0.05</text>
<text x="289.41" y="397.55" font-size="18.0" text-anchor="start" textLength="25.6" lengthAdjust="spacingAndGlyphs">0.1</text>
<text x="279.17" y="368.40" font-size="18.0" text-anchor="start" textLength="35.8" lengthAdjust="spacingAndGlyphs">0.15</text>
<text x="382.69" y="379.31" font-size="18.0" text-anchor="start" textLength="76.6" lengthAdjust="spacingAndGlyphs">J=23−22</text>
<clipPath id="cR4"><rect x="324.7" y="357.0125" width="193.8" height="107.9375"/></clipPath>
<path d="M384.3,450.7L385.1,450.7L385.8,450.7L386.6,450.7L387.3,450.7L388.0,450.6L388.7,450.4L389.3,450.0L389.8,449.4L390.2,448.9L390.6,448.2L390.8,447.5L391.0,446.8L391.1,446.1L391.3,445.3L391.5,444.6L391.7,443.9L391.8,443.1L392.0,442.4L392.1,441.7L392.2,440.9L392.3,440.2L392.4,439.4L392.5,438.7L392.6,437.9L392.7,437.2L392.9,436.5L393.0,435.7L393.1,435.0L393.2,434.2L393.3,433.5L393.4,432.8L393.5,432.0L393.6,431.3L393.7,430.5L393.8,429.8L393.9,429.0L394.0,428.3L394.1,427.5L394.2,426.8L394.3,426.1L394.4,425.3L394.5,424.6L394.6,423.8L394.8,423.1L394.9,422.4L395.0,421.6L395.1,420.9L395.3,420.1L395.4,419.4L395.6,418.7L395.9,418.0L396.1,417.3L396.3,416.5L396.5,415.8L396.8,415.1L397.1,414.5L397.5,413.8L397.8,413.1L398.2,412.5L398.6,411.9L399.0,411.2L399.4,410.6L399.8,410.0L400.2,409.4L400.7,408.8L401.2,408.2L401.7,407.7L402.3,407.2L402.9,406.8L403.6,406.5L404.3,406.3L405.0,406.2L405.7,406.0L406.5,405.8L407.1,405.5L407.8,405.1L408.4,404.7L409.0,404.3L409.6,403.8L410.1,403.3L410.7,402.9L411.4,402.5L412.0,402.1L412.7,401.9L413.4,401.6L414.1,401.3L414.7,400.9L415.2,400.4L415.6,399.8L415.9,399.1L416.3,398.4L416.6,397.8L416.8,397.1L417.1,396.4L417.3,395.6L417.6,394.9L417.9,394.2L418.2,393.5L418.5,392.9L418.8,392.2L419.2,391.6L419.7,391.1L420.3,390.7L421.0,390.4L421.7,390.4L422.3,390.6L422.9,391.1L423.4,391.6L423.8,392.2L424.1,392.9L424.3,393.6L424.6,394.3L424.9,395.0L425.1,395.7L425.4,396.4L425.6,397.2L425.9,397.9L426.1,398.6L426.4,399.3L426.7,399.9L427.0,400.6L427.4,401.2L428.0,401.7L428.6,402.2L429.2,402.5L429.9,402.8L430.6,403.1L431.2,403.5L431.9,403.9L432.5,404.2L433.2,404.6L433.8,405.0L434.5,405.4L435.1,405.7L435.9,405.9L436.6,406.1L437.3,406.2L438.1,406.3L438.8,406.4L439.5,406.6L440.2,406.9L440.8,407.3L441.4,407.8L441.9,408.3L442.4,408.9L442.9,409.4L443.4,410.0L443.8,410.6L444.3,411.2L444.7,411.8L445.2,412.4L445.6,413.0L446.1,413.6L446.5,414.2L446.8,414.9L447.1,415.6L447.3,416.3L447.5,417.0L447.7,417.7L447.8,418.5L448.0,419.2L448.2,419.9L448.3,420.7L448.4,421.4L448.5,422.2L448.6,422.9L448.7,423.6L448.8,424.4L448.9,425.1L449.0,425.9L449.1,426.6L449.2,427.4L449.3,428.1L449.4,428.8L449.5,429.6L449.6,430.3L449.7,431.1L449.8,431.8L449.9,432.6L450.0,433.3L450.1,434.0L450.2,434.8L450.3,435.5L450.4,436.3L450.5,437.0L450.6,437.8L450.7,438.5L450.9,439.2L451.0,440.0L451.1,440.7L451.2,441.5L451.3,442.2L451.4,443.0L451.6,443.7L451.7,444.4L451.9,445.2L452.1,445.9L452.4,446.6L452.6,447.3L452.9,448.0L453.2,448.7L453.6,449.2L454.1,449.7L454.8,450.1L455.4,450.4L456.1,450.5L456.9,450.6L457.6,450.6L458.4,450.6L459.0,450.7L459.5,450.7" fill="none" stroke="#0000fa" stroke-width="1.8" stroke-linejoin="round" stroke-linecap="round"/>
<path d="M325.0,447.2V447.2H329.4V446.8H333.2V443.4H337.1V447.2H341.0V452.6H344.8V447.2H348.7V444.3H352.5V443.0H356.4V442.4H360.2V446.8H364.1V449.5H367.9V452.0H371.8V448.8H375.6V449.1H379.5V450.1H383.3V453.0H387.2V450.1H391.1V437.6H394.9V429.5H398.8V418.7H402.6V412.2H406.5V406.8H410.3V402.9H414.2V401.9H418.0V402.5H419.8V402.5H419.8V402.5H427.1V397.5H430.9V403.9H434.8V414.5H438.7V418.7H442.5V427.0H446.4V437.6H450.2V443.4H454.1V448.2H457.9V449.1H461.8V447.2H465.6V445.7H469.5V444.9H473.3V440.5H477.2V438.5H481.0V441.8H484.9V442.4H488.7V440.5H492.6V432.8H496.5V424.5H500.3V425.1H504.2V430.3H508.0V433.3H511.9V435.7H515.7V438.5H518.6" fill="none" stroke="#151515" stroke-width="0.9" clip-path="url(#cR4)"/>
<text class="b" x="486.0" y="419.6" font-size="14.2" textLength="20.6" lengthAdjust="spacingAndGlyphs">KCl</text>
<text x="304.76" y="564.60" font-size="18.0" text-anchor="start" textLength="10.2" lengthAdjust="spacingAndGlyphs">0</text>
<text x="279.17" y="535.75" font-size="18.0" text-anchor="start" textLength="35.8" lengthAdjust="spacingAndGlyphs">0.05</text>
<text x="289.41" y="506.90" font-size="18.0" text-anchor="start" textLength="25.6" lengthAdjust="spacingAndGlyphs">0.1</text>
<text x="279.17" y="478.05" font-size="18.0" text-anchor="start" textLength="35.8" lengthAdjust="spacingAndGlyphs">0.15</text>
<text x="382.69" y="487.25" font-size="18.0" text-anchor="start" textLength="76.6" lengthAdjust="spacingAndGlyphs">J=22−21</text>
<clipPath id="cR5"><rect x="324.7" y="464.95" width="193.8" height="107.93750000000006"/></clipPath>
<path d="M384.3,559.1L385.1,559.1L385.8,559.1L386.6,559.1L387.3,559.1L388.0,559.0L388.7,558.8L389.3,558.3L389.8,557.8L390.2,557.3L390.6,556.6L390.8,555.9L391.0,555.2L391.1,554.4L391.3,553.7L391.5,553.0L391.7,552.3L391.8,551.5L392.0,550.8L392.1,550.0L392.2,549.3L392.3,548.6L392.4,547.8L392.5,547.1L392.6,546.3L392.7,545.6L392.8,544.8L392.9,544.1L393.0,543.4L393.1,542.6L393.2,541.9L393.3,541.1L393.4,540.4L393.5,539.6L393.6,538.9L393.7,538.2L393.8,537.4L393.9,536.7L394.0,535.9L394.1,535.2L394.2,534.4L394.3,533.7L394.4,533.0L394.6,532.2L394.7,531.5L394.8,530.7L394.9,530.0L395.0,529.2L395.1,528.5L395.2,527.8L395.4,527.0L395.6,526.3L395.7,525.6L395.9,524.9L396.1,524.1L396.3,523.4L396.5,522.7L396.7,522.0L397.0,521.3L397.4,520.6L397.7,520.0L398.1,519.3L398.5,518.7L398.9,518.1L399.4,517.5L399.8,516.9L400.3,516.3L400.7,515.7L401.2,515.1L401.7,514.5L402.2,514.0L402.7,513.5L403.4,513.2L404.1,513.0L404.9,512.9L405.6,512.7L406.3,512.5L407.0,512.3L407.7,511.9L408.3,511.6L409.0,511.2L409.6,510.8L410.3,510.4L410.9,510.1L411.6,509.8L412.3,509.6L413.0,509.3L413.7,509.1L414.4,508.8L415.0,508.3L415.4,507.7L415.7,507.1L416.0,506.4L416.4,505.7L416.7,505.0L417.0,504.3L417.2,503.7L417.5,503.0L417.8,502.3L418.2,501.6L418.6,501.0L419.0,500.4L419.5,499.9L420.2,499.6L420.9,499.4L421.6,499.3L422.3,499.5L422.9,499.9L423.4,500.3L423.9,500.9L424.2,501.6L424.5,502.3L424.8,502.9L425.1,503.6L425.4,504.3L425.7,505.0L426.0,505.7L426.3,506.4L426.7,507.1L427.0,507.7L427.4,508.3L427.9,508.8L428.5,509.3L429.1,509.7L429.8,510.0L430.5,510.2L431.2,510.5L431.9,510.9L432.5,511.3L433.2,511.6L433.8,512.0L434.5,512.3L435.2,512.5L436.0,512.7L436.7,512.8L437.4,512.9L438.2,512.9L438.9,513.0L439.6,513.3L440.3,513.6L440.9,513.9L441.5,514.4L442.1,514.9L442.6,515.4L443.1,516.0L443.6,516.6L444.0,517.2L444.4,517.8L444.9,518.4L445.3,519.0L445.7,519.7L446.1,520.3L446.5,520.9L446.9,521.6L447.1,522.3L447.3,523.0L447.5,523.7L447.6,524.5L447.8,525.2L448.0,525.9L448.1,526.6L448.3,527.4L448.4,528.1L448.5,528.9L448.6,529.6L448.7,530.4L448.8,531.1L448.9,531.8L449.0,532.6L449.1,533.3L449.2,534.1L449.2,534.8L449.3,535.6L449.4,536.3L449.5,537.0L449.6,537.8L449.7,538.5L449.8,539.3L449.9,540.0L450.0,540.8L450.1,541.5L450.2,542.3L450.3,543.0L450.4,543.7L450.5,544.5L450.6,545.2L450.7,546.0L450.8,546.7L450.9,547.5L451.0,548.2L451.1,548.9L451.2,549.7L451.3,550.4L451.4,551.2L451.5,551.9L451.7,552.6L451.8,553.4L452.1,554.1L452.3,554.8L452.6,555.5L452.8,556.2L453.1,556.9L453.5,557.5L454.0,558.0L454.5,558.5L455.2,558.9L455.9,559.1L456.6,559.1L457.3,559.2L458.1,559.2L458.8,559.2L459.5,559.3" fill="none" stroke="#0000fa" stroke-width="1.8" stroke-linejoin="round" stroke-linecap="round"/>
<path d="M325.0,555.2V555.2H330.7V556.8H334.6V556.4H338.5V556.0H342.3V557.5H346.2V558.7H350.0V557.7H353.9V558.3H357.7V559.6H361.6V560.6H365.4V558.7H369.3V556.2H373.1V556.8H377.0V554.8H380.8V555.2H384.7V555.6H388.5V558.1H391.8V550.4H395.7V537.5H399.5V526.7H403.4V521.5H407.2V517.6H411.1V511.3H414.9V504.7H419.8V504.7H419.8V504.7H421.3V506.7H424.8V510.5H428.6V511.3H432.5V516.3H436.3V523.4H440.2V526.7H444.0V540.8H447.9V554.8H452.1V561.0H456.0V560.0H459.8V559.1H463.7V557.5H467.6V556.2H471.4V555.6H476.8V557.5H480.7V556.8H485.5V544.6H489.3V528.2H493.8V525.4H497.6V537.9H501.5V548.5H505.3V554.3H509.6V555.2H514.4V556.2H518.6" fill="none" stroke="#151515" stroke-width="0.9" clip-path="url(#cR5)"/>
<text class="b" x="486.4" y="505.9" font-size="14.2" textLength="19.8" lengthAdjust="spacingAndGlyphs">SiS</text>
<text class="b" x="484.0" y="519.8" font-size="13.4" textLength="25.2" lengthAdjust="spacingAndGlyphs">v=3</text>
<text x="304.76" y="663.95" font-size="18.0" text-anchor="start" textLength="10.2" lengthAdjust="spacingAndGlyphs">0</text>
<text x="279.17" y="641.45" font-size="18.0" text-anchor="start" textLength="35.8" lengthAdjust="spacingAndGlyphs">0.05</text>
<text x="289.41" y="618.95" font-size="18.0" text-anchor="start" textLength="25.6" lengthAdjust="spacingAndGlyphs">0.1</text>
<text x="279.17" y="596.45" font-size="18.0" text-anchor="start" textLength="35.8" lengthAdjust="spacingAndGlyphs">0.15</text>
<text x="382.69" y="595.19" font-size="18.0" text-anchor="start" textLength="76.6" lengthAdjust="spacingAndGlyphs">J=21−20</text>
<clipPath id="cR6"><rect x="324.7" y="572.8875" width="193.8" height="107.9375"/></clipPath>
<path d="M384.3,658.9L385.1,658.9L385.8,658.9L386.6,658.9L387.3,658.8L388.0,658.8L388.7,658.6L389.3,658.1L389.8,657.6L390.3,657.0L390.6,656.4L390.8,655.7L391.0,655.0L391.2,654.2L391.4,653.5L391.6,652.8L391.8,652.1L391.9,651.3L392.1,650.6L392.2,649.8L392.3,649.1L392.4,648.4L392.5,647.6L392.6,646.9L392.7,646.1L392.8,645.4L392.9,644.7L393.0,643.9L393.1,643.2L393.2,642.4L393.3,641.7L393.4,640.9L393.5,640.2L393.6,639.5L393.7,638.7L393.8,638.0L393.9,637.2L394.0,636.5L394.1,635.7L394.3,635.0L394.4,634.3L394.5,633.5L394.7,632.8L394.8,632.1L395.0,631.3L395.1,630.6L395.3,629.8L395.5,629.1L395.7,628.4L396.0,627.7L396.3,627.0L396.6,626.3L396.9,625.7L397.3,625.1L397.8,624.5L398.3,623.9L398.7,623.3L399.3,622.8L399.9,622.4L400.5,621.9L401.1,621.6L401.8,621.3L402.5,621.1L403.3,620.9L404.0,620.7L404.7,620.6L405.5,620.5L406.2,620.4L406.9,620.2L407.6,619.9L408.3,619.6L408.9,619.2L409.6,618.9L410.3,618.6L411.0,618.4L411.8,618.2L412.5,618.0L413.2,617.8L413.9,617.5L414.6,617.2L415.2,616.9L415.8,616.4L416.3,615.9L416.8,615.3L417.3,614.7L417.7,614.1L418.1,613.5L418.5,612.9L419.0,612.3L419.5,611.7L420.1,611.3L420.7,611.0L421.4,610.8L422.1,610.7L422.7,610.9L423.3,611.4L423.8,611.9L424.3,612.5L424.7,613.1L425.1,613.7L425.5,614.4L425.8,615.0L426.2,615.7L426.7,616.3L427.2,616.8L427.7,617.3L428.3,617.7L429.0,618.0L429.7,618.1L430.5,618.3L431.2,618.5L431.9,618.7L432.6,618.9L433.3,619.2L434.0,619.4L434.7,619.6L435.5,619.9L436.2,620.1L436.9,620.2L437.6,620.3L438.4,620.4L439.1,620.6L439.9,620.7L440.6,620.9L441.3,621.1L442.0,621.4L442.6,621.7L443.2,622.2L443.8,622.6L444.4,623.1L444.9,623.7L445.3,624.3L445.7,624.9L446.1,625.6L446.4,626.2L446.7,626.9L446.9,627.7L447.1,628.4L447.4,629.1L447.6,629.8L447.8,630.5L448.0,631.3L448.1,632.0L448.2,632.7L448.4,633.5L448.5,634.2L448.6,634.9L448.8,635.7L448.9,636.4L449.0,637.2L449.1,637.9L449.3,638.6L449.4,639.4L449.5,640.1L449.6,640.9L449.7,641.6L449.8,642.3L449.9,643.1L450.1,643.8L450.2,644.6L450.3,645.3L450.4,646.1L450.5,646.8L450.6,647.5L450.8,648.3L450.9,649.0L451.0,649.7L451.1,650.5L451.3,651.2L451.4,652.0L451.6,652.7L451.7,653.4L452.0,654.1L452.2,654.8L452.5,655.5L452.8,656.2L453.1,656.9L453.6,657.4L454.2,657.9L454.8,658.3L455.5,658.5L456.2,658.6L456.9,658.6L457.7,658.6L458.4,658.7L459.0,658.7L459.5,658.7" fill="none" stroke="#0000fa" stroke-width="1.8" stroke-linejoin="round" stroke-linecap="round"/>
<path d="M324.3,660.8V662.1H325.4V663.1H326.6V664.2H330.5V666.2H334.3V667.0H338.6V664.7H342.8V659.6H347.1V657.0H351.6V663.9H355.9V670.4H360.2V671.9H364.4V662.1H368.7V655.4H372.9V653.4H377.2V650.0H381.7V658.5H385.7V666.2H389.8V640.8H394.1V622.4H398.4V623.5H402.4V622.0H406.6V611.2H411.2V608.6H415.4V615.3H419.7V604.6H424.0V601.5H428.5V618.1H432.8V619.7H436.9V621.2H441.3V645.9H445.4V660.5H449.7V666.7H458.2V650.8H462.1V648.6H465.0V649.1H466.6V661.6H471.0V662.2H475.3V650.0H479.7V647.1H483.9V649.1H488.0V642.9H492.2V646.2H496.5V654.5H501.1V566.2H504.7V594.2H509.6V596.1H513.8V588.4H517.3V586.5H518.6" fill="none" stroke="#151515" stroke-width="0.9" clip-path="url(#cR6)"/>
<text class="b" x="469.1" y="626.6" font-size="14.5" textLength="8.9" lengthAdjust="spacingAndGlyphs">U</text>
<path d="M481,622.4H494" stroke="#222" stroke-width="1" fill="none"/>
<path d="M498.4,622.4L487.0,616.2L492.6,622.4L487.0,628.6Z" fill="#111"/>
<text x="304.76" y="779.95" font-size="18.0" text-anchor="start" textLength="10.2" lengthAdjust="spacingAndGlyphs">0</text>
<text x="289.41" y="754.55" font-size="18.0" text-anchor="start" textLength="25.6" lengthAdjust="spacingAndGlyphs">0.1</text>
<text x="289.41" y="729.15" font-size="18.0" text-anchor="start" textLength="25.6" lengthAdjust="spacingAndGlyphs">0.2</text>
<text x="289.41" y="703.75" font-size="18.0" text-anchor="start" textLength="25.6" lengthAdjust="spacingAndGlyphs">0.3</text>
<text x="382.69" y="703.12" font-size="18.0" text-anchor="start" textLength="76.6" lengthAdjust="spacingAndGlyphs">J=20−19</text>
<clipPath id="cR7"><rect x="324.7" y="680.825" width="193.8" height="107.9375"/></clipPath>
<path d="M384.3,774.9L385.1,774.9L385.8,774.9L386.6,774.9L387.3,774.9L388.0,774.9L388.7,774.7L389.3,774.2L389.8,773.7L390.3,773.1L390.6,772.5L390.9,771.8L391.1,771.1L391.3,770.4L391.5,769.6L391.8,768.9L392.0,768.2L392.1,767.5L392.3,766.7L392.5,766.0L392.7,765.3L392.8,764.6L393.0,763.8L393.3,763.1L393.5,762.4L393.8,761.7L394.0,761.0L394.3,760.3L394.6,759.6L395.0,759.0L395.4,758.4L395.9,757.8L396.4,757.3L397.0,756.9L397.6,756.4L398.3,756.1L399.0,755.8L399.6,755.5L400.3,755.2L401.1,755.0L401.8,754.8L402.5,754.7L403.3,754.6L404.0,754.5L404.7,754.4L405.5,754.2L406.2,754.1L407.0,754.0L407.7,753.9L408.5,753.8L409.2,753.7L409.9,753.5L410.7,753.4L411.4,753.2L412.1,753.1L412.9,752.9L413.6,752.8L414.3,752.6L415.1,752.5L415.8,752.2L416.4,751.9L417.1,751.5L417.7,751.1L418.4,750.8L419.1,750.5L419.8,750.2L420.5,750.0L421.2,750.0L422.0,750.0L422.7,750.1L423.3,750.5L424.0,750.9L424.6,751.3L425.2,751.7L425.8,752.1L426.4,752.5L427.1,752.8L427.8,753.0L428.6,753.2L429.3,753.3L430.0,753.4L430.8,753.5L431.5,753.7L432.3,753.8L433.0,753.9L433.7,754.0L434.5,754.1L435.2,754.2L436.0,754.3L436.7,754.4L437.5,754.5L438.2,754.6L439.0,754.7L439.7,754.8L440.4,754.8L441.2,755.0L441.9,755.1L442.6,755.3L443.4,755.5L444.0,755.8L444.7,756.1L445.3,756.5L445.9,757.0L446.4,757.5L446.8,758.1L447.2,758.8L447.5,759.4L447.8,760.1L448.1,760.8L448.3,761.5L448.5,762.3L448.7,763.0L448.9,763.7L449.1,764.4L449.3,765.2L449.5,765.9L449.7,766.6L449.8,767.3L450.0,768.1L450.2,768.8L450.4,769.5L450.6,770.2L450.9,770.9L451.2,771.6L451.5,772.3L451.9,772.9L452.3,773.5L452.9,773.9L453.5,774.3L454.2,774.6L454.9,774.8L455.7,774.9L456.4,774.9L457.2,774.9L457.9,774.9L458.6,774.9L459.2,774.9L459.5,774.9" fill="none" stroke="#0000fa" stroke-width="1.8" stroke-linejoin="round" stroke-linecap="round"/>
<path d="M325.0,724.5V724.5H327.5V724.1H331.7V727.4H336.5V729.3H341.0V728.3H345.6V727.9H350.0V727.4H354.4V720.2H359.1V722.5H363.5V717.7H367.9V731.2H372.6V757.2H377.0V766.9H381.4V780.3H386.0V776.1H390.5V764.5H394.7V751.8H399.1V741.4H403.6V737.9H408.2V724.5H412.6V714.8H417.3V709.0H419.0V710.0H419.0V710.0H426.3V724.8H430.9V740.3H435.4V745.3H444.4V759.1H448.9V774.2H453.3V780.0H457.9V778.0H462.4V775.5H466.8V777.4H471.4V774.6H480.3V782.3H484.9V781.3H489.3V780.7H493.8V778.8H498.4V775.5H502.8V779.4H507.2V777.4H511.9V781.3H516.3V780.3H518.6" fill="none" stroke="#151515" stroke-width="0.9" clip-path="url(#cR7)"/>
<text class="b" x="340.6" y="753.6" font-size="14.2" textLength="20.2" lengthAdjust="spacingAndGlyphs">SiS</text>
<text class="b" x="330.5" y="765.8" font-size="14.2" textLength="40.8" lengthAdjust="spacingAndGlyphs">image</text>
<text x="304.76" y="887.40" font-size="18.0" text-anchor="start" textLength="10.2" lengthAdjust="spacingAndGlyphs">0</text>
<text x="279.17" y="862.15" font-size="18.0" text-anchor="start" textLength="35.8" lengthAdjust="spacingAndGlyphs">0.05</text>
<text x="289.41" y="836.90" font-size="18.0" text-anchor="start" textLength="25.6" lengthAdjust="spacingAndGlyphs">0.1</text>
<text x="279.17" y="811.65" font-size="18.0" text-anchor="start" textLength="35.8" lengthAdjust="spacingAndGlyphs">0.15</text>
<text x="382.69" y="811.06" font-size="18.0" text-anchor="start" textLength="76.6" lengthAdjust="spacingAndGlyphs">J=19−18</text>
<clipPath id="cR8"><rect x="324.7" y="788.7625" width="193.8" height="107.9375"/></clipPath>
<path d="M384.3,882.3L385.1,882.3L385.8,882.3L386.6,882.3L387.3,882.3L388.0,882.2L388.7,882.0L389.3,881.7L389.9,881.2L390.4,880.6L390.7,880.0L390.9,879.3L391.1,878.6L391.4,877.8L391.6,877.1L391.8,876.4L391.9,875.7L392.0,874.9L392.1,874.2L392.3,873.4L392.4,872.7L392.5,872.0L392.6,871.2L392.7,870.5L392.8,869.7L392.9,869.0L393.0,868.3L393.1,867.5L393.2,866.8L393.3,866.0L393.4,865.3L393.5,864.5L393.7,863.8L393.8,863.1L393.9,862.3L394.0,861.6L394.1,860.8L394.2,860.1L394.3,859.4L394.5,858.6L394.6,857.9L394.7,857.1L394.9,856.4L395.0,855.7L395.2,854.9L395.3,854.2L395.5,853.5L395.8,852.8L396.1,852.1L396.3,851.4L396.6,850.7L396.9,850.0L397.3,849.4L397.7,848.8L398.2,848.2L398.7,847.6L399.2,847.1L399.8,846.7L400.5,846.3L401.1,845.9L401.8,845.6L402.5,845.4L403.2,845.2L404.0,845.0L404.7,844.8L405.4,844.7L406.2,844.6L406.9,844.5L407.6,844.3L408.4,844.1L409.1,843.9L409.8,843.7L410.5,843.6L411.3,843.4L412.0,843.2L412.7,843.0L413.4,842.8L414.2,842.6L414.9,842.4L415.5,842.1L416.1,841.6L416.6,841.1L417.2,840.6L417.7,840.1L418.3,839.6L418.9,839.2L419.6,838.8L420.2,838.5L421.0,838.3L421.7,838.3L422.4,838.4L423.1,838.6L423.7,839.0L424.3,839.4L424.9,839.9L425.4,840.4L425.9,841.0L426.5,841.5L427.1,841.9L427.7,842.2L428.4,842.5L429.1,842.8L429.8,843.0L430.6,843.2L431.3,843.4L432.0,843.6L432.7,843.8L433.5,844.0L434.2,844.1L434.9,844.3L435.7,844.5L436.4,844.7L437.1,844.9L437.9,845.0L438.6,845.1L439.3,845.2L440.1,845.3L440.8,845.5L441.5,845.6L442.3,845.9L443.0,846.1L443.7,846.4L444.3,846.8L444.8,847.3L445.4,847.8L445.9,848.3L446.3,848.9L446.6,849.6L446.8,850.3L447.0,851.0L447.2,851.7L447.4,852.5L447.6,853.2L447.8,853.9L448.0,854.6L448.1,855.4L448.2,856.1L448.3,856.9L448.4,857.6L448.5,858.4L448.6,859.1L448.8,859.8L448.9,860.6L449.0,861.3L449.1,862.1L449.2,862.8L449.3,863.5L449.4,864.3L449.5,865.0L449.6,865.8L449.7,866.5L449.8,867.3L449.9,868.0L450.0,868.8L450.1,869.5L450.2,870.2L450.3,871.0L450.4,871.7L450.5,872.5L450.7,873.2L450.8,873.9L450.9,874.7L451.0,875.4L451.2,876.2L451.3,876.9L451.5,877.6L451.8,878.3L452.1,879.0L452.4,879.7L452.8,880.3L453.2,880.8L453.9,881.2L454.5,881.6L455.2,881.8L455.9,881.9L456.7,882.0L457.4,882.0L458.2,882.0L458.9,882.1L459.5,882.1" fill="none" stroke="#0000fa" stroke-width="1.8" stroke-linejoin="round" stroke-linecap="round"/>
<path d="M325.0,877.3V875.4H328.8V875.0H333.6V875.4H338.5V873.8H343.3V874.4H347.5V875.4H352.3V876.3H357.1V880.2H361.8V880.6H366.4V880.8H371.2V881.5H376.0V883.1H380.6V880.2H385.3V878.8H390.1V875.7H394.9V858.4H399.5V836.8H404.3V830.7H409.0V828.7H413.8V823.3H418.4V820.5H419.8V820.5H419.8V820.5H423.2V823.3H428.1V824.3H432.9V830.1H437.5V837.2H442.1V846.5H446.9V870.0H451.8V881.5H456.4V882.1H461.0V883.5H465.8V884.0H470.6V882.1H475.3V882.3H479.9V883.1H484.7V882.5H489.5V882.7H494.1V881.9H499.0V882.5H503.8V883.1H508.4V880.8H513.0V880.2H517.3V881.5H518.6" fill="none" stroke="#151515" stroke-width="0.9" clip-path="url(#cR8)"/>
<text x="0.60" y="18.50" font-size="18.0" textLength="9.0" lengthAdjust="spacingAndGlyphs">T</text>
<text class="b" x="9.60" y="22.50" font-size="13" textLength="7.6" lengthAdjust="spacingAndGlyphs">A</text>
<text class="s" x="16.90" y="7.80" font-size="11.5">*</text>
<text x="24.00" y="18.50" font-size="19.7" textLength="5.0" lengthAdjust="spacingAndGlyphs">(</text>
<text x="29.70" y="18.50" font-size="18.0" textLength="12.2" lengthAdjust="spacingAndGlyphs">K</text>
<text x="42.95" y="18.50" font-size="19.7" textLength="5.2" lengthAdjust="spacingAndGlyphs">)</text>
<text x="274.20" y="18.50" font-size="18.0" textLength="9.0" lengthAdjust="spacingAndGlyphs">T</text>
<text class="b" x="283.20" y="22.50" font-size="13" textLength="7.6" lengthAdjust="spacingAndGlyphs">A</text>
<text class="s" x="290.50" y="7.80" font-size="11.5">*</text>
<text x="297.60" y="18.50" font-size="19.7" textLength="5.0" lengthAdjust="spacingAndGlyphs">(</text>
<text x="303.30" y="18.50" font-size="18.0" textLength="12.2" lengthAdjust="spacingAndGlyphs">K</text>
<text x="316.55" y="18.50" font-size="19.7" textLength="5.2" lengthAdjust="spacingAndGlyphs">)</text>
<text x="88.30" y="942.80" font-size="18.0" textLength="8.6" lengthAdjust="spacingAndGlyphs">v</text>
<text class="b" x="97.00" y="946.10" font-size="11.8" textLength="21.2" lengthAdjust="spacingAndGlyphs">LSR</text>
<text x="126.90" y="942.60" font-size="20.5">(</text>
<text x="134.20" y="942.80" font-size="18.0" textLength="30.6" lengthAdjust="spacingAndGlyphs">km</text>
<text x="171.50" y="942.80" font-size="18.0" textLength="8.2" lengthAdjust="spacingAndGlyphs">s</text>
<text class="s" x="180.60" y="934.60" font-size="11.8" textLength="16.4" lengthAdjust="spacingAndGlyphs">−1</text>
<text x="197.70" y="942.60" font-size="20.5">)</text>
<text x="361.90" y="942.80" font-size="18.0" textLength="8.6" lengthAdjust="spacingAndGlyphs">v</text>
<text class="b" x="370.60" y="946.10" font-size="11.8" textLength="21.2" lengthAdjust="spacingAndGlyphs">LSR</text>
<text x="400.50" y="942.60" font-size="20.5">(</text>
<text x="407.80" y="942.80" font-size="18.0" textLength="30.6" lengthAdjust="spacingAndGlyphs">km</text>
<text x="445.10" y="942.80" font-size="18.0" textLength="8.2" lengthAdjust="spacingAndGlyphs">s</text>
<text class="s" x="454.20" y="934.60" font-size="11.8" textLength="16.4" lengthAdjust="spacingAndGlyphs">−1</text>
<text x="471.30" y="942.60" font-size="20.5">)</text>
</svg>
</body></html>
